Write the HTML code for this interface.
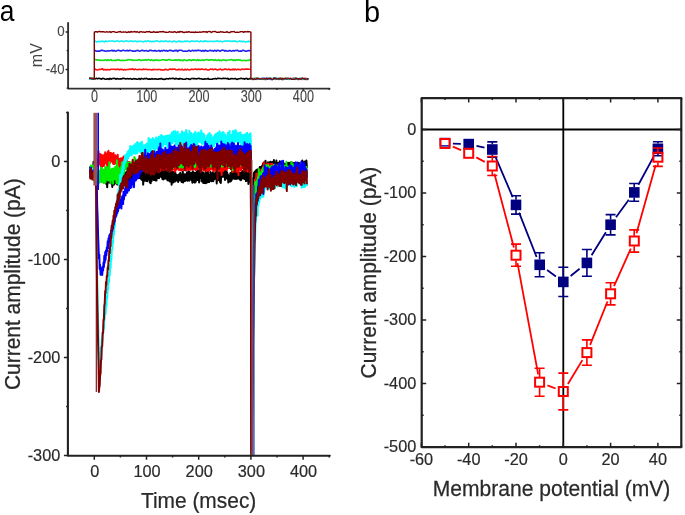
<!DOCTYPE html>
<html><head><meta charset="utf-8"><style>
html,body{margin:0;padding:0;background:#fff;}
body{width:685px;height:515px;overflow:hidden;font-family:"Liberation Sans",sans-serif;}
svg{display:block;filter:blur(0.6px);}
</style></head><body>
<svg width="685" height="515" viewBox="0 0 685 515" font-family="Liberation Sans, sans-serif"><defs><clipPath id="cm"><rect x="68.5" y="112.4" width="262" height="343"/></clipPath></defs><rect width="685" height="515" fill="#fff"/><path d="M89.1 78.7 L90.1 78.5 L91.2 79 L92.2 78.4 L93.3 78.9 L94.3 78.7 L94.3 78.4 L95.3 78.9 L96.4 78.3 L97.4 78.8 L98.5 78.4 L99.5 78.4 L100.6 78.8 L101.6 79.2 L102.7 78.4 L103.7 78.5 L104.7 79 L105.8 79.3 L106.8 78.9 L107.9 78.7 L108.9 79.4 L110 78.4 L111 79.2 L112 78.6 L113.1 78.5 L114.1 78.4 L115.2 78.6 L116.2 79.2 L117.3 78.5 L118.3 78.9 L119.4 79 L120.4 78.7 L121.4 78.9 L122.5 78.4 L123.5 78.4 L124.6 78.5 L125.6 79 L126.7 78.8 L127.7 78.6 L128.8 78.9 L129.8 78.8 L130.8 78.6 L131.9 79.2 L132.9 79.1 L134 78.6 L135 78.9 L136.1 78.9 L137.1 79.3 L138.1 79.1 L139.2 78.6 L140.2 79.4 L141.3 78.4 L142.3 78.8 L143.4 79.1 L144.4 78.5 L145.5 78.8 L146.5 78.3 L147.5 79 L148.6 79.1 L149.6 78.9 L150.7 79.3 L151.7 78.6 L152.8 79.1 L153.8 79 L154.9 78.9 L155.9 78.8 L156.9 79.2 L158 79.3 L159 78.8 L160.1 79 L161.1 78.4 L162.2 79.1 L163.2 79 L164.2 79.4 L165.3 79.2 L166.3 78.6 L167.4 78.7 L168.4 79 L169.5 78.3 L170.5 78.8 L171.6 78.5 L172.6 78.4 L173.6 78.4 L174.7 79.1 L175.7 78.4 L176.8 78.6 L177.8 78.7 L178.9 79.3 L179.9 78.4 L181 78.8 L182 78.9 L183 79.3 L184.1 79.2 L185.1 79.3 L186.2 78.6 L187.2 78.8 L188.3 78.7 L189.3 79.3 L190.3 79.4 L191.4 78.5 L192.4 78.5 L193.5 78.6 L194.5 78.6 L195.6 78.8 L196.6 78.9 L197.7 78.6 L198.7 78.3 L199.7 78.8 L200.8 78.7 L201.8 78.9 L202.9 79.3 L203.9 79.1 L205 78.9 L206 79 L207.1 79 L208.1 78.4 L209.1 79.3 L210.2 79.2 L211.2 79.3 L212.3 79.2 L213.3 78.7 L214.4 78.7 L215.4 78.4 L216.4 79 L217.5 78.4 L218.5 78.4 L219.6 78.5 L220.6 78.5 L221.7 78.7 L222.7 78.4 L223.8 78.3 L224.8 78.5 L225.8 78.4 L226.9 78.7 L227.9 78.3 L229 79.3 L230 79 L231.1 78.5 L232.1 78.6 L233.2 78.7 L234.2 78.7 L235.2 78.4 L236.3 79.2 L237.3 79.4 L238.4 78.8 L239.4 78.8 L240.5 78.4 L241.5 78.4 L242.5 78.7 L243.6 78.6 L244.6 79.2 L245.7 78.5 L246.7 78.3 L247.8 79.3 L248.8 78.9 L249.9 78.5 L250.9 78.9 L250.9 78.4 L251.9 78.9 L253 79.4 L254 79.2 L255.1 79.1 L256.1 78.6 L257.2 78.7 L258.2 78.5 L259.3 79.1 L260.3 78.9 L261.3 79.2 L262.4 78.7 L263.4 78.5 L264.5 79.2 L265.5 79.4 L266.6 79.2 L267.6 79.2 L268.6 79.2 L269.7 79.1 L270.7 78.5 L271.8 78.9 L272.8 78.7 L273.9 78.3 L274.9 78.3 L276 78.6 L277 78.6 L278 79.1 L279.1 79.4 L280.1 78.8 L281.2 79.3 L282.2 79.4 L283.3 79.4 L284.3 78.7 L285.4 78.5 L286.4 78.5 L287.4 78.5 L288.5 78.5 L289.5 79 L290.6 79.3 L291.6 79.2 L292.7 78.8 L293.7 79 L294.7 79.2 L295.8 78.4 L296.8 79 L297.9 79.3 L298.9 79.2 L300 79.1 L301 78.8 L302.1 78.5 L303.1 79.2 L304.1 78.7 L305.2 79.2 L306.2 79.4 L307.3 78.7 L308.3 78.7" fill="none" stroke="#000000" stroke-width="1.6" stroke-linejoin="round"/><path d="M89.1 79.3 L90.1 79.1 L91.2 78.5 L92.2 78.4 L93.3 78.5 L94.3 79.3 M94.3 69.8 L95.3 69.1 L96.4 69.8 L97.4 70 L98.5 69.7 L99.5 69.3 L100.6 69.5 L101.6 69.1 L102.7 68.9 L103.7 70 L104.7 69.6 L105.8 69.5 L106.8 70 L107.9 69.4 L108.9 69.9 L110 69.8 L111 69.2 L112 69.2 L113.1 69.3 L114.1 69.2 L115.2 69.6 L116.2 69.2 L117.3 69.4 L118.3 69.1 L119.4 69.9 L120.4 69.3 L121.4 69.4 L122.5 69.6 L123.5 69.9 L124.6 69.4 L125.6 69.9 L126.7 69.5 L127.7 69.5 L128.8 69.5 L129.8 69 L130.8 69.4 L131.9 69.1 L132.9 68.9 L134 69.8 L135 69.1 L136.1 69.5 L137.1 69.7 L138.1 69.5 L139.2 69.3 L140.2 69.5 L141.3 69.5 L142.3 69.8 L143.4 69 L144.4 69.5 L145.5 69.2 L146.5 69.2 L147.5 69.8 L148.6 69.5 L149.6 69.5 L150.7 69.8 L151.7 69.9 L152.8 69.4 L153.8 69.6 L154.9 69.5 L155.9 69.5 L156.9 69.7 L158 69.4 L159 69.5 L160.1 69.5 L161.1 70 L162.2 69.7 L163.2 69.9 L164.2 70 L165.3 69.2 L166.3 69.5 L167.4 70 L168.4 69.9 L169.5 69.1 L170.5 69.1 L171.6 69.4 L172.6 69 L173.6 69.2 L174.7 69 L175.7 69.7 L176.8 69.8 L177.8 69.9 L178.9 69.1 L179.9 69.7 L181 69.7 L182 69.1 L183 69.9 L184.1 70 L185.1 69.2 L186.2 70 L187.2 69.4 L188.3 69.5 L189.3 70 L190.3 69.8 L191.4 69.1 L192.4 69.4 L193.5 69.5 L194.5 69.3 L195.6 69.1 L196.6 69.3 L197.7 69.7 L198.7 69 L199.7 69.5 L200.8 69.4 L201.8 68.9 L202.9 69.3 L203.9 69.6 L205 69.5 L206 69 L207.1 70 L208.1 69.8 L209.1 70 L210.2 69 L211.2 69.2 L212.3 69 L213.3 69.8 L214.4 69.2 L215.4 69.1 L216.4 69.4 L217.5 69.9 L218.5 69.8 L219.6 69.2 L220.6 69.1 L221.7 69.9 L222.7 69.6 L223.8 69.7 L224.8 69 L225.8 69 L226.9 69.7 L227.9 69.4 L229 69 L230 70 L231.1 69.6 L232.1 69.8 L233.2 69 L234.2 69.9 L235.2 69 L236.3 69.9 L237.3 69.4 L238.4 69.3 L239.4 69.5 L240.5 69.9 L241.5 69.2 L242.5 69.1 L243.6 69.5 L244.6 69.2 L245.7 69.1 L246.7 69.1 L247.8 69 L248.8 69.2 L249.9 69.3 L250.9 69.3 M250.9 79.1 L251.9 78.6 L253 78.9 L254 78.5 L255.1 78.7 L256.1 78.3 L257.2 78.6 L258.2 78.3 L259.3 79.1 L260.3 78.9 L261.3 78.5 L262.4 78.8 L263.4 79.3 L264.5 78.4 L265.5 79.2 L266.6 78.8 L267.6 78.8 L268.6 79.2 L269.7 78.7 L270.7 78.9 L271.8 79.1 L272.8 79.4 L273.9 78.7 L274.9 79.2 L276 79.1 L277 79 L278 78.7 L279.1 78.7 L280.1 78.4 L281.2 78.4 L282.2 78.4 L283.3 79.1 L284.3 78.6 L285.4 78.5 L286.4 78.4 L287.4 79.2 L288.5 79.3 L289.5 79 L290.6 78.6 L291.6 78.6 L292.7 78.6 L293.7 78.8 L294.7 78.5 L295.8 78.8 L296.8 78.6 L297.9 79.4 L298.9 79.4 L300 78.9 L301 78.6 L302.1 79.4 L303.1 78.6 L304.1 78.7 L305.2 78.3 L306.2 78.7 L307.3 78.8 L308.3 78.9" fill="none" stroke="#ff1010" stroke-width="1.6" stroke-linejoin="round"/><path d="M89.1 78.5 L90.1 78.9 L91.2 78.3 L92.2 78.6 L93.3 78.4 L94.3 78.7 M94.3 59.6 L95.3 59.6 L96.4 59.9 L97.4 59.8 L98.5 60.2 L99.5 60.1 L100.6 60.4 L101.6 60.3 L102.7 60.3 L103.7 60.5 L104.7 60 L105.8 59.9 L106.8 60.6 L107.9 59.7 L108.9 60.4 L110 60.3 L111 59.6 L112 60.5 L113.1 60.5 L114.1 60.3 L115.2 60.4 L116.2 60.5 L117.3 59.7 L118.3 60.1 L119.4 60.1 L120.4 60.5 L121.4 60.4 L122.5 60.5 L123.5 60.2 L124.6 60.5 L125.6 60.3 L126.7 60.3 L127.7 59.8 L128.8 59.6 L129.8 59.7 L130.8 60 L131.9 59.7 L132.9 60.5 L134 60.2 L135 60.3 L136.1 60.2 L137.1 60.3 L138.1 60.1 L139.2 59.6 L140.2 60.4 L141.3 60.4 L142.3 60.1 L143.4 60.1 L144.4 60.3 L145.5 59.6 L146.5 60.4 L147.5 59.8 L148.6 59.6 L149.6 59.9 L150.7 60.4 L151.7 59.8 L152.8 60.4 L153.8 60.6 L154.9 60.1 L155.9 60 L156.9 60.1 L158 60.3 L159 60.4 L160.1 60.2 L161.1 60.3 L162.2 59.6 L163.2 59.7 L164.2 59.8 L165.3 60.4 L166.3 59.9 L167.4 60.2 L168.4 59.6 L169.5 59.6 L170.5 59.9 L171.6 60.3 L172.6 60.3 L173.6 60.3 L174.7 59.9 L175.7 60.1 L176.8 60.1 L177.8 60.1 L178.9 59.7 L179.9 60.5 L181 59.8 L182 60.6 L183 60.6 L184.1 59.6 L185.1 60.1 L186.2 60.5 L187.2 60.6 L188.3 60.1 L189.3 59.9 L190.3 59.8 L191.4 60.6 L192.4 59.8 L193.5 60.2 L194.5 59.7 L195.6 60.1 L196.6 60.6 L197.7 59.7 L198.7 60.5 L199.7 60.1 L200.8 60.5 L201.8 60.3 L202.9 59.8 L203.9 60.5 L205 60.1 L206 59.6 L207.1 59.6 L208.1 60.1 L209.1 60.1 L210.2 59.9 L211.2 59.7 L212.3 59.9 L213.3 59.9 L214.4 60.5 L215.4 59.6 L216.4 60.4 L217.5 60.5 L218.5 59.7 L219.6 60.6 L220.6 60.3 L221.7 60.6 L222.7 59.9 L223.8 60 L224.8 60 L225.8 60.7 L226.9 60.2 L227.9 60 L229 60 L230 59.9 L231.1 59.6 L232.1 59.7 L233.2 60.5 L234.2 59.9 L235.2 60.6 L236.3 59.8 L237.3 59.9 L238.4 60.1 L239.4 59.8 L240.5 60 L241.5 60.6 L242.5 60.5 L243.6 60.5 L244.6 60.3 L245.7 60.6 L246.7 60.6 L247.8 60.2 L248.8 60.4 L249.9 59.6 L250.9 60.4 M250.9 78.8 L251.9 79.1 L253 79 L254 78.6 L255.1 78.4 L256.1 79.3 L257.2 78.4 L258.2 78.8 L259.3 78.7 L260.3 78.6 L261.3 79.1 L262.4 79.4 L263.4 78.6 L264.5 79 L265.5 78.6 L266.6 78.9 L267.6 78.7 L268.6 78.5 L269.7 78.5 L270.7 78.5 L271.8 79.3 L272.8 78.8 L273.9 78.5 L274.9 79.3 L276 79.4 L277 78.8 L278 78.5 L279.1 78.5 L280.1 78.4 L281.2 78.7 L282.2 78.4 L283.3 78.6 L284.3 78.6 L285.4 78.9 L286.4 79.3 L287.4 79.1 L288.5 78.8 L289.5 78.8 L290.6 78.9 L291.6 78.7 L292.7 78.7 L293.7 78.4 L294.7 78.6 L295.8 79.4 L296.8 78.4 L297.9 78.9 L298.9 79 L300 79.2 L301 78.5 L302.1 78.6 L303.1 78.6 L304.1 78.7 L305.2 78.8 L306.2 79.3 L307.3 79.2 L308.3 79.3" fill="none" stroke="#10e010" stroke-width="1.6" stroke-linejoin="round"/><path d="M89.1 78.3 L90.1 78.3 L91.2 79.1 L92.2 79.3 L93.3 78.8 L94.3 78.9 M94.3 50.2 L95.3 50.6 L96.4 51.2 L97.4 51.1 L98.5 51.1 L99.5 51.3 L100.6 50.5 L101.6 50.3 L102.7 50.4 L103.7 50.8 L104.7 50.9 L105.8 51.2 L106.8 51 L107.9 50.9 L108.9 51 L110 50.7 L111 50.8 L112 50.2 L113.1 51.1 L114.1 50.4 L115.2 51.2 L116.2 50.9 L117.3 50.5 L118.3 50.3 L119.4 50.5 L120.4 50.9 L121.4 51 L122.5 50.3 L123.5 50.3 L124.6 50.8 L125.6 50.8 L126.7 50.6 L127.7 50.4 L128.8 50.9 L129.8 50.2 L130.8 50.5 L131.9 50.7 L132.9 51.2 L134 50.9 L135 51.2 L136.1 50.7 L137.1 50.4 L138.1 50.5 L139.2 51.2 L140.2 51 L141.3 50.5 L142.3 50.2 L143.4 50.7 L144.4 50.9 L145.5 50.7 L146.5 50.5 L147.5 50.9 L148.6 51.2 L149.6 50.4 L150.7 50.2 L151.7 50.6 L152.8 50.7 L153.8 50.9 L154.9 50.4 L155.9 51.1 L156.9 51 L158 50.7 L159 50.4 L160.1 51.3 L161.1 50.5 L162.2 51.1 L163.2 50.4 L164.2 50.4 L165.3 51 L166.3 50.5 L167.4 51.2 L168.4 50.7 L169.5 50.4 L170.5 50.4 L171.6 50.6 L172.6 50.9 L173.6 51.2 L174.7 50.4 L175.7 50.6 L176.8 50.4 L177.8 51.3 L178.9 50.3 L179.9 50.2 L181 50.3 L182 50.6 L183 51.2 L184.1 51.2 L185.1 51 L186.2 51.3 L187.2 51.2 L188.3 50.6 L189.3 50.4 L190.3 51.2 L191.4 51 L192.4 50.2 L193.5 50.9 L194.5 50.6 L195.6 50.6 L196.6 50.6 L197.7 50.4 L198.7 50.2 L199.7 50.5 L200.8 50.6 L201.8 51.2 L202.9 50.3 L203.9 51.3 L205 50.4 L206 50.6 L207.1 51.1 L208.1 51.1 L209.1 50.7 L210.2 50.2 L211.2 50.7 L212.3 50.6 L213.3 51.2 L214.4 50.4 L215.4 50.6 L216.4 51.2 L217.5 50.2 L218.5 50.6 L219.6 51.1 L220.6 51 L221.7 50.2 L222.7 50.2 L223.8 50.3 L224.8 51.2 L225.8 50.5 L226.9 51 L227.9 51.2 L229 50.6 L230 50.5 L231.1 51.2 L232.1 50.9 L233.2 50.5 L234.2 51 L235.2 50.5 L236.3 50.5 L237.3 50.2 L238.4 51 L239.4 51.2 L240.5 50.9 L241.5 51.2 L242.5 50.2 L243.6 50.4 L244.6 50.7 L245.7 51.2 L246.7 51.2 L247.8 50.6 L248.8 50.5 L249.9 50.7 L250.9 50.7 M250.9 79.3 L251.9 78.5 L253 79.2 L254 79.1 L255.1 79.2 L256.1 79.2 L257.2 79 L258.2 78.7 L259.3 78.7 L260.3 78.7 L261.3 79.2 L262.4 78.4 L263.4 78.5 L264.5 79.1 L265.5 78.6 L266.6 78.4 L267.6 78.3 L268.6 78.9 L269.7 78.7 L270.7 79.4 L271.8 79.3 L272.8 79.4 L273.9 78.6 L274.9 78.4 L276 78.4 L277 78.8 L278 79.1 L279.1 78.8 L280.1 78.6 L281.2 78.8 L282.2 79 L283.3 79 L284.3 79.1 L285.4 79.2 L286.4 79 L287.4 78.4 L288.5 79.2 L289.5 78.6 L290.6 78.9 L291.6 78.7 L292.7 79.1 L293.7 78.5 L294.7 78.6 L295.8 78.6 L296.8 78.5 L297.9 79.3 L298.9 78.9 L300 78.7 L301 78.7 L302.1 79.4 L303.1 78.9 L304.1 78.6 L305.2 79.2 L306.2 79 L307.3 79.4 L308.3 78.4" fill="none" stroke="#2020f0" stroke-width="1.6" stroke-linejoin="round"/><path d="M89.1 78.8 L90.1 79.2 L91.2 79.2 L92.2 79.3 L93.3 78.3 L94.3 78.6 M94.3 41 L95.3 41 L96.4 41.9 L97.4 41.5 L98.5 41.8 L99.5 41.2 L100.6 41.8 L101.6 41.3 L102.7 41.1 L103.7 41.7 L104.7 41.9 L105.8 40.9 L106.8 41.5 L107.9 41.5 L108.9 41.1 L110 41.2 L111 41 L112 41 L113.1 41.1 L114.1 41.5 L115.2 41.5 L116.2 41 L117.3 40.8 L118.3 41.2 L119.4 41.6 L120.4 41 L121.4 41.2 L122.5 41 L123.5 41.7 L124.6 41.4 L125.6 40.9 L126.7 40.9 L127.7 41.3 L128.8 41.4 L129.8 41.5 L130.8 40.9 L131.9 41 L132.9 41.6 L134 41.3 L135 41.1 L136.1 41.2 L137.1 41.9 L138.1 41.2 L139.2 41.4 L140.2 41.2 L141.3 41.3 L142.3 41.8 L143.4 41.9 L144.4 41.2 L145.5 41 L146.5 41.6 L147.5 41 L148.6 40.8 L149.6 41.8 L150.7 41.3 L151.7 41.7 L152.8 41.3 L153.8 41.8 L154.9 41.3 L155.9 41 L156.9 40.8 L158 41.4 L159 41.5 L160.1 41.8 L161.1 40.9 L162.2 41.5 L163.2 41.2 L164.2 41.4 L165.3 41 L166.3 41.1 L167.4 41.4 L168.4 41.8 L169.5 40.9 L170.5 41.4 L171.6 41.7 L172.6 41.9 L173.6 41 L174.7 41 L175.7 41.9 L176.8 41.9 L177.8 41.4 L178.9 40.9 L179.9 41.8 L181 41.2 L182 41.8 L183 41.5 L184.1 41.7 L185.1 41 L186.2 41.7 L187.2 41.1 L188.3 41.3 L189.3 41.8 L190.3 41.7 L191.4 41 L192.4 41.1 L193.5 41.3 L194.5 41.4 L195.6 41.2 L196.6 41 L197.7 41.1 L198.7 41.6 L199.7 41.8 L200.8 40.9 L201.8 41.4 L202.9 41.7 L203.9 40.9 L205 41.7 L206 40.9 L207.1 41.5 L208.1 41.4 L209.1 41.5 L210.2 41.2 L211.2 41.3 L212.3 41.5 L213.3 41.3 L214.4 41.5 L215.4 41.3 L216.4 41.3 L217.5 40.8 L218.5 41.5 L219.6 41.4 L220.6 41.1 L221.7 41.7 L222.7 41.7 L223.8 41.3 L224.8 41 L225.8 41.3 L226.9 40.9 L227.9 41 L229 41.3 L230 40.9 L231.1 41.3 L232.1 41.4 L233.2 40.9 L234.2 41.5 L235.2 40.9 L236.3 41.6 L237.3 41.7 L238.4 41.4 L239.4 40.9 L240.5 41.4 L241.5 41.2 L242.5 41.9 L243.6 41 L244.6 41.8 L245.7 41.9 L246.7 41.6 L247.8 41.7 L248.8 41 L249.9 41.9 L250.9 41.4 M250.9 79.3 L251.9 79.3 L253 78.5 L254 79.2 L255.1 79.3 L256.1 78.4 L257.2 78.7 L258.2 79.1 L259.3 78.5 L260.3 79.3 L261.3 78.6 L262.4 79.2 L263.4 78.5 L264.5 78.9 L265.5 79.3 L266.6 78.5 L267.6 78.6 L268.6 78.9 L269.7 78.7 L270.7 78.3 L271.8 78.5 L272.8 78.5 L273.9 79.3 L274.9 79 L276 79.3 L277 78.5 L278 79.2 L279.1 78.4 L280.1 78.9 L281.2 79 L282.2 78.7 L283.3 79.3 L284.3 78.9 L285.4 78.9 L286.4 79.3 L287.4 78.4 L288.5 79.4 L289.5 79 L290.6 78.7 L291.6 79.2 L292.7 78.6 L293.7 79.4 L294.7 78.9 L295.8 78.7 L296.8 79.1 L297.9 78.8 L298.9 78.5 L300 79.1 L301 78.4 L302.1 79.2 L303.1 78.6 L304.1 79 L305.2 79.4 L306.2 78.9 L307.3 79 L308.3 78.6" fill="none" stroke="#10f0f0" stroke-width="1.6" stroke-linejoin="round"/><path d="M89.1 78.3 L90.1 78.3 L91.2 78.5 L92.2 79 L93.3 78.8 L94.3 78.9 L94.3 32.4 L95.3 31.6 L96.4 31.7 L97.4 32.2 L98.5 31.5 L99.5 31.5 L100.6 31.8 L101.6 31.6 L102.7 31.8 L103.7 31.7 L104.7 32.1 L105.8 32.1 L106.8 31.7 L107.9 32.1 L108.9 32 L110 31.6 L111 32.5 L112 31.7 L113.1 31.6 L114.1 31.6 L115.2 32.2 L116.2 32.4 L117.3 32.3 L118.3 31.9 L119.4 31.7 L120.4 31.5 L121.4 32.2 L122.5 32.1 L123.5 31.8 L124.6 32.2 L125.6 31.9 L126.7 32.5 L127.7 32.3 L128.8 31.7 L129.8 32.4 L130.8 31.5 L131.9 32 L132.9 31.9 L134 31.7 L135 31.5 L136.1 32.3 L137.1 31.5 L138.1 32.1 L139.2 32.5 L140.2 31.6 L141.3 31.7 L142.3 32.1 L143.4 32 L144.4 32.2 L145.5 32.3 L146.5 31.6 L147.5 31.8 L148.6 31.8 L149.6 31.5 L150.7 32.4 L151.7 32.3 L152.8 32.2 L153.8 31.5 L154.9 32.4 L155.9 32.3 L156.9 32 L158 32.3 L159 31.9 L160.1 31.7 L161.1 31.6 L162.2 31.7 L163.2 31.5 L164.2 31.8 L165.3 32.3 L166.3 32.2 L167.4 32.4 L168.4 32.2 L169.5 31.7 L170.5 32.1 L171.6 31.9 L172.6 32.3 L173.6 32 L174.7 31.7 L175.7 32.2 L176.8 32.5 L177.8 31.7 L178.9 32.4 L179.9 31.5 L181 31.7 L182 31.7 L183 32.3 L184.1 32.5 L185.1 32.3 L186.2 31.8 L187.2 32.4 L188.3 31.8 L189.3 31.7 L190.3 32.4 L191.4 32.1 L192.4 32.2 L193.5 32.2 L194.5 32.5 L195.6 32 L196.6 32.4 L197.7 32.2 L198.7 32.4 L199.7 31.9 L200.8 32.2 L201.8 32.1 L202.9 31.8 L203.9 31.7 L205 32.1 L206 31.5 L207.1 32.5 L208.1 31.6 L209.1 31.5 L210.2 31.6 L211.2 32.5 L212.3 31.8 L213.3 31.6 L214.4 31.5 L215.4 31.5 L216.4 32.2 L217.5 32.1 L218.5 32.2 L219.6 32.3 L220.6 31.5 L221.7 32.1 L222.7 31.8 L223.8 32.3 L224.8 32.4 L225.8 32.4 L226.9 31.5 L227.9 32.4 L229 32.5 L230 32.5 L231.1 31.6 L232.1 31.7 L233.2 31.6 L234.2 31.5 L235.2 32.4 L236.3 32.3 L237.3 32.1 L238.4 32.4 L239.4 32.1 L240.5 31.8 L241.5 31.6 L242.5 31.6 L243.6 32.3 L244.6 31.7 L245.7 31.8 L246.7 31.9 L247.8 31.5 L248.8 31.7 L249.9 31.8 L250.9 32.2 L250.9 78.7 L251.9 78.7 L253 79.4 L254 78.9 L255.1 79.2 L256.1 79 L257.2 78.3 L258.2 78.8 L259.3 78.8 L260.3 79.2 L261.3 78.7 L262.4 79.1 L263.4 78.9 L264.5 78.5 L265.5 79.2 L266.6 78.4 L267.6 79.2 L268.6 78.5 L269.7 78.3 L270.7 78.5 L271.8 79.1 L272.8 79.4 L273.9 78.3 L274.9 78.8 L276 78.8 L277 79.2 L278 78.5 L279.1 78.8 L280.1 78.7 L281.2 79.2 L282.2 78.6 L283.3 79.3 L284.3 78.6 L285.4 78.5 L286.4 79.1 L287.4 78.8 L288.5 78.4 L289.5 79 L290.6 78.4 L291.6 79.2 L292.7 79.1 L293.7 79.2 L294.7 79 L295.8 78.7 L296.8 78.7 L297.9 78.7 L298.9 79.3 L300 78.4 L301 79.3 L302.1 78.3 L303.1 78.5 L304.1 78.6 L305.2 79.3 L306.2 78.9 L307.3 78.7 L308.3 79.3" fill="none" stroke="#800000" stroke-width="1.4" stroke-linejoin="round"/><path d="M68.1 22.9 V88.6 H329.5" fill="none" stroke="#303030" stroke-width="1.9" stroke-linejoin="round" stroke-linecap="round"/><path d="M68.1 32 h-2.5 M68.1 50.7 h-1.5 M68.1 69.5 h-2.5 M68.1 88.2 h-1.5 M94.3 88.6 v2.5 M120.4 88.6 v1.5 M146.5 88.6 v2.5 M172.6 88.6 v1.5 M198.7 88.6 v2.5 M224.8 88.6 v1.5 M250.9 88.6 v2.5 M277 88.6 v1.5 M303.1 88.6 v2.5 M329.2 88.6 v1.5" stroke="#222222" stroke-width="1.3" fill="none"/><text transform="translate(94.6 102.3) scale(0.79 1)" font-size="16" text-anchor="middle" fill="#444444" stroke="#444444" stroke-width="0.1">0</text><text transform="translate(146.8 102.3) scale(0.79 1)" font-size="16" text-anchor="middle" fill="#444444" stroke="#444444" stroke-width="0.1">100</text><text transform="translate(199 102.3) scale(0.79 1)" font-size="16" text-anchor="middle" fill="#444444" stroke="#444444" stroke-width="0.1">200</text><text transform="translate(251.2 102.3) scale(0.79 1)" font-size="16" text-anchor="middle" fill="#444444" stroke="#444444" stroke-width="0.1">300</text><text transform="translate(303.4 102.3) scale(0.79 1)" font-size="16" text-anchor="middle" fill="#444444" stroke="#444444" stroke-width="0.1">400</text><text transform="translate(64.6 35.9) scale(0.9 1)" font-size="14.8" text-anchor="end" fill="#444444" stroke="#444444" stroke-width="0.1">0</text><text transform="translate(64.6 73.8) scale(0.88 1)" font-size="14.8" text-anchor="end" fill="#444444" stroke="#444444" stroke-width="0.1">-40</text><text transform="translate(41.6 55.2) rotate(-90)" font-size="16" text-anchor="middle" fill="#444444">mV</text><g clip-path="url(#cm)"><path d="M90.1 166.5 L90.5 177.6 L91 168.3 L91.4 177.2 L91.8 170.2 L92.2 176.3 L92.6 168.4 L93 177.8 L93.5 161.8 L93.9 177.2 L94.3 169.4 L94.7 176.6 L95.1 169.6 L95.6 178.9 L96 171.3 L96.4 184.9 L96.8 173.2 L97.2 180.4 L97.6 176 L98.1 181.4 L98.5 174.6 L98.9 182.5 L99.3 175.5 L99.7 180.3 L100.1 171.8 L100.6 179.5 L101 173.9 L101.4 180.2 L101.8 173.8 L102.2 181.5 L102.7 172.3 L103.1 178.3 L103.5 172.4 L103.9 178.6 L104.3 173 L104.7 182.2 L105.2 175.7 L105.6 181.6 L106 175 L106.4 184.1 L106.8 176.4 L107.2 187.2 L107.7 174.9 L108.1 180.9 L108.5 174.2 L108.9 182.4 L109.3 175.5 L109.8 181.4 L110.2 174 L110.6 183.3 L111 170.7 L111.4 182.5 L111.8 176.9 L112.3 186.9 L112.7 174.7 L113.1 182.2 L113.5 175.9 L113.9 184.8 L114.3 175.3 L114.8 183.3 L115.2 177.2 L115.6 183.2 L116 176.1 L116.4 183.5 L116.9 176.6 L117.3 184.4 L117.7 173.9 L118.1 182.8 L118.5 173.9 L118.9 182.7 L119.4 174.1 L119.8 181.9 L120.2 175.4 L120.6 184.5 L121 174.6 L121.4 181.8 L121.9 174 L122.3 183 L122.7 176 L123.1 184.2 L123.5 175.9 L123.9 181.2 L124.4 173.3 L124.8 183.8 L125.2 172.6 L125.6 186.7 L126 173.4 L126.5 179.3 L126.9 171.7 L127.3 180.3 L127.7 173.8 L128.1 179.7 L128.5 172 L129 181.4 L129.4 173.9 L129.8 181.5 L130.2 175.5 L130.6 180.4 L131 174.7 L131.5 181.1 L131.9 173.7 L132.3 180.9 L132.7 172 L133.1 180.6 L133.6 171.8 L134 179.5 L134.4 172.1 L134.8 178.3 L135.2 168 L135.6 180.2 L136.1 171.5 L136.5 178 L136.9 172.1 L137.3 177.9 L137.7 170.3 L138.1 177.8 L138.6 171.9 L139 177.3 L139.4 169.8 L139.8 178.1 L140.2 171.9 L140.7 178.6 L141.1 169.3 L141.5 179.4 L141.9 170.3 L142.3 180.1 L142.7 170.1 L143.2 184.6 L143.6 171 L144 180.5 L144.4 171.6 L144.8 180.7 L145.2 172.5 L145.7 179.9 L146.1 173.6 L146.5 180.9 L146.9 173.1 L147.3 181.3 L147.8 172.4 L148.2 179.4 L148.6 173.1 L149 179.1 L149.4 174.1 L149.8 182.5 L150.3 173.6 L150.7 183.3 L151.1 172.1 L151.5 181.1 L151.9 171.8 L152.3 179.5 L152.8 171.2 L153.2 178.9 L153.6 172.3 L154 180.1 L154.4 172.8 L154.9 178.7 L155.3 170.7 L155.7 180.6 L156.1 171 L156.5 180.5 L156.9 170.7 L157.4 176.7 L157.8 168.8 L158.2 177.9 L158.6 168.2 L159 178.3 L159.4 167.9 L159.9 176.5 L160.3 169.6 L160.7 176.6 L161.1 169.8 L161.5 177.3 L162 166.4 L162.4 178.9 L162.8 166.8 L163.2 179.4 L163.6 169.5 L164 178 L164.5 171.7 L164.9 178.8 L165.3 170.9 L165.7 178.1 L166.1 170.9 L166.5 178.6 L167 172.8 L167.4 180.3 L167.8 170.3 L168.2 180.5 L168.6 174.3 L169.1 180.6 L169.5 173.2 L169.9 181.4 L170.3 169.7 L170.7 181.4 L171.1 173.3 L171.6 184.7 L172 171.5 L172.4 181.9 L172.8 174.4 L173.2 182.5 L173.6 172 L174.1 180.4 L174.5 173.9 L174.9 181.6 L175.3 171.9 L175.7 179.3 L176.1 174.5 L176.6 180.6 L177 175.4 L177.4 180.8 L177.8 175.1 L178.2 181.9 L178.7 174.4 L179.1 180 L179.5 174.3 L179.9 180.2 L180.3 172.7 L180.7 180.5 L181.2 175.6 L181.6 182 L182 174.3 L182.4 181.2 L182.8 171.3 L183.2 182.4 L183.7 174.2 L184.1 179.6 L184.5 174.2 L184.9 181.1 L185.3 174.5 L185.8 179.5 L186.2 174.2 L186.6 180.2 L187 172.2 L187.4 180.7 L187.8 173.6 L188.3 178.8 L188.7 171.3 L189.1 180.8 L189.5 171.9 L189.9 179.6 L190.3 174.4 L190.8 179.2 L191.2 173 L191.6 180.4 L192 172.5 L192.4 182.8 L192.9 171.3 L193.3 182 L193.7 174.5 L194.1 182.2 L194.5 172.8 L194.9 182.6 L195.4 175.2 L195.8 181.8 L196.2 172.6 L196.6 179 L197 170.1 L197.4 179.9 L197.9 170.1 L198.3 179.4 L198.7 171.3 L199.1 182.5 L199.5 170.8 L200 177.7 L200.4 168.3 L200.8 177.9 L201.2 173.3 L201.6 181.2 L202 172 L202.5 181.7 L202.9 174.3 L203.3 183 L203.7 172.6 L204.1 183.1 L204.5 174.1 L205 180.3 L205.4 174.2 L205.8 183.2 L206.2 168.9 L206.6 182.8 L207.1 173.9 L207.5 182.2 L207.9 171.6 L208.3 181.1 L208.7 174.7 L209.1 182.1 L209.6 174.7 L210 180.9 L210.4 171.9 L210.8 179.9 L211.2 175 L211.6 181.2 L212.1 173.1 L212.5 179.3 L212.9 172.3 L213.3 181.2 L213.7 173.6 L214.2 179.3 L214.6 173.6 L215 178.4 L215.4 172.2 L215.8 178.7 L216.2 173.3 L216.7 183.5 L217.1 170.9 L217.5 180.4 L217.9 172.3 L218.3 179.9 L218.7 173.8 L219.2 178.7 L219.6 172.1 L220 181.9 L220.4 173.2 L220.8 182.9 L221.3 170.8 L221.7 177.2 L222.1 168.7 L222.5 176.2 L222.9 168.7 L223.3 176.5 L223.8 168.7 L224.2 176.9 L224.6 170.3 L225 180 L225.4 169.1 L225.8 178 L226.3 168.5 L226.7 178.6 L227.1 172.5 L227.5 178.3 L227.9 174.2 L228.3 182.5 L228.8 175.8 L229.2 180.2 L229.6 175.5 L230 181.6 L230.4 173 L230.9 181.2 L231.3 173.3 L231.7 180 L232.1 171.1 L232.5 178.5 L232.9 172.6 L233.4 178.4 L233.8 172.4 L234.2 177 L234.6 168.6 L235 179 L235.4 170.6 L235.9 176.5 L236.3 170.7 L236.7 179 L237.1 171.2 L237.5 177.4 L238 167.3 L238.4 178.4 L238.8 172.5 L239.2 178.5 L239.6 172.8 L240 179.6 L240.5 172.9 L240.9 180.2 L241.3 173.4 L241.7 178.1 L242.1 171 L242.5 178.4 L243 172.7 L243.4 177.9 L243.8 172.2 L244.2 178.9 L244.6 171.4 L245.1 178.3 L245.5 170.5 L245.9 181.1 L246.3 173.8 L246.7 178.8 L247.1 170.5 L247.6 180.8 L248 170 L248.4 184 L248.8 174 L249.2 181 L249.6 171.8 L250.1 182.3 L250.5 172.5 L250.9 179.7 L251.3 397.7 L251.7 342.8 L252.2 238.6 L252.6 204.7 L253 177.8 L253.4 181.9 L253.8 173 L254.2 178.2 L254.7 171.7 L255.1 176.4 L255.5 170.9 L255.9 175 L256.3 170 L256.7 175.9 L257.2 169.6 L257.6 174.7 L258 169.8 L258.4 175.5 L258.8 169.8 L259.3 172.6 L259.7 167.1 L260.1 172.4 L260.5 167 L260.9 172.4 L261.3 167.5 L261.8 171 L262.2 165.5 L262.6 170.2 L263 163.6 L263.4 168.4 L263.8 164.7 L264.3 169.8 L264.7 162.3 L265.1 171.3 L265.5 160.7 L265.9 169 L266.4 163.9 L266.8 167.8 L267.2 163.4 L267.6 172.4 L268 162.3 L268.4 169 L268.9 163.1 L269.3 168 L269.7 162.3 L270.1 168.5 L270.5 161.8 L270.9 167.9 L271.4 162.6 L271.8 167 L272.2 162.1 L272.6 168.1 L273 162 L273.5 166.6 L273.9 160.1 L274.3 167.5 L274.7 162.4 L275.1 166.9 L275.5 162.4 L276 167.7 L276.4 160.6 L276.8 168.5 L277.2 163.3 L277.6 168.1 L278 163.1 L278.5 168.1 L278.9 163.6 L279.3 168.8 L279.7 161.2 L280.1 167.3 L280.5 163.3 L281 167.7 L281.4 162.3 L281.8 167.8 L282.2 161.9 L282.6 167.1 L283.1 162.2 L283.5 167.8 L283.9 163.6 L284.3 169.5 L284.7 164.4 L285.1 169.9 L285.6 163.9 L286 170.8 L286.4 164.6 L286.8 168 L287.2 163 L287.6 171.6 L288.1 163.2 L288.5 167.6 L288.9 162.8 L289.3 167.3 L289.7 164.2 L290.2 167.6 L290.6 162.8 L291 168.1 L291.4 162 L291.8 167.6 L292.2 163.8 L292.7 168.9 L293.1 163.3 L293.5 169.3 L293.9 162.9 L294.3 168.7 L294.7 163.3 L295.2 167.9 L295.6 163 L296 168.4 L296.4 163.1 L296.8 167.7 L297.3 163.4 L297.7 170.5 L298.1 165.2 L298.5 170.8 L298.9 162.8 L299.3 169.8 L299.8 165 L300.2 169.8 L300.6 164.7 L301 170.4 L301.4 163.1 L301.8 169.5 L302.3 160.4 L302.7 168.8 L303.1 162.1 L303.5 167.8 L303.9 163.7 L304.4 167.5 L304.8 161.6 L305.2 167 L305.6 163 L306 166.2 L306.4 160.6 L306.9 167.7" fill="none" stroke="#000000" stroke-width="2" stroke-linejoin="round"/><path d="M90.1 170.4 L90.5 178.7 L91 167.9 L91.4 176.8 L91.8 167.8 L92.2 177.1 L92.6 168.6 L93 175.8 L93.5 170.5 L93.9 176.9 L94.3 165.8 L94.7 174.1 L95.1 167.3 L95.6 174.8 L96 167.1 L96.4 172 L96.8 159.1 L97.2 165.8 L97.6 158.7 L98.1 161.8 L98.5 151.3 L98.9 162.1 L99.3 154.7 L99.7 164.1 L100.1 154 L100.6 166.2 L101 154.7 L101.4 167.7 L101.8 154.9 L102.2 166.6 L102.7 157.3 L103.1 165 L103.5 155.8 L103.9 165.9 L104.3 154.4 L104.7 163.7 L105.2 152.3 L105.6 163.3 L106 154.9 L106.4 163.4 L106.8 153.8 L107.2 168.7 L107.7 151.9 L108.1 160.4 L108.5 150.7 L108.9 166.1 L109.3 155.2 L109.8 163.3 L110.2 153.1 L110.6 160.7 L111 153 L111.4 161.1 L111.8 154.1 L112.3 162.1 L112.7 153.8 L113.1 163.8 L113.5 153.1 L113.9 164.1 L114.3 155.7 L114.8 163.8 L115.2 155.2 L115.6 163.3 L116 155.9 L116.4 161.9 L116.9 157.6 L117.3 164.8 L117.7 154.8 L118.1 164.6 L118.5 158.6 L118.9 166.7 L119.4 159 L119.8 167 L120.2 160.2 L120.6 169 L121 158.3 L121.4 169 L121.9 161 L122.3 167.6 L122.7 158.1 L123.1 165.9 L123.5 156.5 L123.9 165.3 L124.4 158.9 L124.8 165.6 L125.2 159.3 L125.6 168.7 L126 161.3 L126.5 167.5 L126.9 160.3 L127.3 169.1 L127.7 162.2 L128.1 170.6 L128.5 162 L129 168.9 L129.4 162 L129.8 168.8 L130.2 162.8 L130.6 170.4 L131 163.2 L131.5 170.3 L131.9 162.7 L132.3 168.5 L132.7 161 L133.1 169.5 L133.6 162.8 L134 171.3 L134.4 162.4 L134.8 170.2 L135.2 162.8 L135.6 170.7 L136.1 161.6 L136.5 170.4 L136.9 163 L137.3 171.2 L137.7 165.7 L138.1 172.4 L138.6 165.6 L139 169.5 L139.4 162.1 L139.8 169.5 L140.2 165.1 L140.7 172.5 L141.1 164.5 L141.5 168.4 L141.9 163.1 L142.3 168.1 L142.7 164.1 L143.2 169.6 L143.6 162.6 L144 167.7 L144.4 163 L144.8 169.8 L145.2 164 L145.7 167.7 L146.1 163.2 L146.5 169.1 L146.9 162.3 L147.3 168.8 L147.8 162.7 L148.2 170.6 L148.6 161 L149 171 L149.4 163.2 L149.8 168.9 L150.3 161.6 L150.7 168.6 L151.1 162.5 L151.5 167.9 L151.9 162.5 L152.3 167.7 L152.8 163 L153.2 169.4 L153.6 160.7 L154 170.3 L154.4 162.2 L154.9 167.2 L155.3 164 L155.7 170.1 L156.1 163.9 L156.5 168.7 L156.9 161.8 L157.4 168.8 L157.8 164.4 L158.2 171.9 L158.6 165.5 L159 169.6 L159.4 164.4 L159.9 171.3 L160.3 164.1 L160.7 169.3 L161.1 163.3 L161.5 168.4 L162 164.1 L162.4 169.8 L162.8 160.9 L163.2 169.9 L163.6 161.4 L164 169.6 L164.5 161.7 L164.9 166.9 L165.3 161.5 L165.7 167.9 L166.1 162.6 L166.5 168.6 L167 161.6 L167.4 170.4 L167.8 164.3 L168.2 169.6 L168.6 163.1 L169.1 168.9 L169.5 163.2 L169.9 171 L170.3 165.3 L170.7 168.6 L171.1 163.2 L171.6 170.5 L172 163.3 L172.4 170.2 L172.8 161.8 L173.2 168.4 L173.6 161.2 L174.1 168.9 L174.5 162 L174.9 171.8 L175.3 161 L175.7 169.4 L176.1 160.9 L176.6 169.8 L177 162.3 L177.4 168.4 L177.8 163.9 L178.2 168.2 L178.7 161.7 L179.1 170.3 L179.5 162.9 L179.9 170.1 L180.3 157.5 L180.7 169.7 L181.2 163.6 L181.6 170.4 L182 161.8 L182.4 169.1 L182.8 165.2 L183.2 169.1 L183.7 163 L184.1 170.1 L184.5 165.8 L184.9 169.9 L185.3 164.6 L185.8 170.5 L186.2 163.8 L186.6 170.1 L187 165.4 L187.4 169.8 L187.8 162.5 L188.3 168.3 L188.7 164.4 L189.1 169.8 L189.5 162.6 L189.9 169.7 L190.3 161.1 L190.8 169.7 L191.2 160.8 L191.6 167.4 L192 160.3 L192.4 169.2 L192.9 160.5 L193.3 169.4 L193.7 162.5 L194.1 168 L194.5 162.1 L194.9 169.2 L195.4 161 L195.8 170.2 L196.2 162 L196.6 169.7 L197 159.7 L197.4 167.2 L197.9 160.5 L198.3 168.4 L198.7 162.1 L199.1 167.6 L199.5 162.3 L200 170.1 L200.4 161.6 L200.8 168.2 L201.2 161.7 L201.6 169.8 L202 163.8 L202.5 168.6 L202.9 164.3 L203.3 169.9 L203.7 164.1 L204.1 170.6 L204.5 162.6 L205 168.9 L205.4 164.8 L205.8 169.3 L206.2 162.2 L206.6 171.1 L207.1 163.2 L207.5 169.8 L207.9 162.2 L208.3 168.8 L208.7 163.7 L209.1 170.7 L209.6 162.8 L210 168.8 L210.4 163.9 L210.8 169.4 L211.2 164.2 L211.6 168.7 L212.1 163.8 L212.5 168.7 L212.9 162.4 L213.3 171.3 L213.7 162.7 L214.2 170.7 L214.6 162.7 L215 168.4 L215.4 161.3 L215.8 170 L216.2 164.2 L216.7 168.3 L217.1 165 L217.5 170.2 L217.9 164.5 L218.3 168.8 L218.7 163 L219.2 168.6 L219.6 163.9 L220 171.3 L220.4 165 L220.8 170 L221.3 163.2 L221.7 175 L222.1 162.5 L222.5 168.6 L222.9 164.6 L223.3 170.9 L223.8 164.5 L224.2 169.6 L224.6 164.3 L225 168.9 L225.4 163.4 L225.8 169.5 L226.3 163.8 L226.7 170 L227.1 161.2 L227.5 168.1 L227.9 162 L228.3 167.6 L228.8 163.1 L229.2 168 L229.6 161.8 L230 166.7 L230.4 162.4 L230.9 169 L231.3 163.5 L231.7 168.9 L232.1 163.7 L232.5 172.1 L232.9 161.8 L233.4 169.5 L233.8 163.6 L234.2 169.4 L234.6 162.9 L235 171.6 L235.4 162.4 L235.9 169 L236.3 161.6 L236.7 171.4 L237.1 164 L237.5 170.7 L238 161.8 L238.4 175 L238.8 163.6 L239.2 169.5 L239.6 162.1 L240 169.2 L240.5 161.1 L240.9 170.6 L241.3 163.6 L241.7 168.8 L242.1 163.4 L242.5 168.3 L243 163.9 L243.4 167.8 L243.8 164 L244.2 170.1 L244.6 164.6 L245.1 169.8 L245.5 165 L245.9 170.8 L246.3 160.7 L246.7 169 L247.1 163.7 L247.6 171.6 L248 162.2 L248.4 169.4 L248.8 160.2 L249.2 171.6 L249.6 165 L250.1 171.3 L250.5 163.3 L250.9 171.2 L251.3 395 L251.7 448.7 L252.2 364.4 L252.6 304.5 L253 257.1 L253.4 225.6 L253.8 202.7 L254.2 201.1 L254.7 187.7 L255.1 188.9 L255.5 179.3 L255.9 187 L256.3 173.5 L256.7 185.5 L257.2 175.1 L257.6 184 L258 174.3 L258.4 181.7 L258.8 171.6 L259.3 180.1 L259.7 169.7 L260.1 178.6 L260.5 171.2 L260.9 176 L261.3 170.1 L261.8 174.7 L262.2 168.5 L262.6 176.1 L263 166.6 L263.4 174.2 L263.8 162.3 L264.3 172.9 L264.7 164.5 L265.1 175.1 L265.5 165.8 L265.9 175.6 L266.4 164.2 L266.8 172.2 L267.2 165.3 L267.6 174.4 L268 163.4 L268.4 175 L268.9 165.1 L269.3 176.8 L269.7 166.5 L270.1 177.5 L270.5 163.8 L270.9 171 L271.4 165 L271.8 173 L272.2 163.7 L272.6 171.6 L273 165.4 L273.5 172.5 L273.9 165.1 L274.3 174.2 L274.7 164.9 L275.1 172.2 L275.5 165.3 L276 174.6 L276.4 165.1 L276.8 171.8 L277.2 166.9 L277.6 175.6 L278 167.5 L278.5 174.6 L278.9 167.6 L279.3 174.2 L279.7 165.7 L280.1 173.6 L280.5 167 L281 173.5 L281.4 168.7 L281.8 175.9 L282.2 167 L282.6 174 L283.1 166.9 L283.5 174.6 L283.9 166.7 L284.3 176.6 L284.7 166.5 L285.1 174.7 L285.6 168.8 L286 177 L286.4 168 L286.8 176.2 L287.2 168.5 L287.6 175.3 L288.1 167.9 L288.5 174.5 L288.9 167.7 L289.3 174 L289.7 167.2 L290.2 173.1 L290.6 165.9 L291 174.7 L291.4 166.3 L291.8 175.2 L292.2 166.4 L292.7 173.3 L293.1 167 L293.5 174.8 L293.9 165.8 L294.3 173.4 L294.7 165.1 L295.2 174.2 L295.6 166.9 L296 178.6 L296.4 165 L296.8 172.5 L297.3 167.7 L297.7 175.9 L298.1 168 L298.5 173.9 L298.9 167.3 L299.3 175.8 L299.8 166.3 L300.2 175 L300.6 164.8 L301 173.9 L301.4 165.6 L301.8 175 L302.3 166.5 L302.7 172.8 L303.1 167.5 L303.5 174 L303.9 165 L304.4 177.1 L304.8 168.8 L305.2 175.1 L305.6 167.5 L306 177 L306.4 168.7 L306.9 175.7" fill="none" stroke="#ff0000" stroke-width="2" stroke-linejoin="round"/><path d="M90.1 169.3 L90.5 177 L91 165.6 L91.4 178.2 L91.8 166.1 L92.2 174.2 L92.6 167.4 L93 176.3 L93.5 165.2 L93.9 180.4 L94.3 166.9 L94.7 179.8 L95.1 169.9 L95.6 178.6 L96 170.9 L96.4 182 L96.8 172.1 L97.2 182.7 L97.6 172 L98.1 186.4 L98.5 172 L98.9 181.6 L99.3 171.6 L99.7 182.3 L100.1 170.3 L100.6 179.7 L101 167.4 L101.4 182 L101.8 168.4 L102.2 177.7 L102.7 169.6 L103.1 181.8 L103.5 170.1 L103.9 183.3 L104.3 169.8 L104.7 179.9 L105.2 167.6 L105.6 182.3 L106 166.7 L106.4 178.1 L106.8 170.1 L107.2 179.4 L107.7 167.3 L108.1 180.4 L108.5 167.2 L108.9 180.4 L109.3 162.2 L109.8 180.2 L110.2 170.8 L110.6 183.1 L111 169.8 L111.4 179.9 L111.8 169 L112.3 179.3 L112.7 168.8 L113.1 183.8 L113.5 168.5 L113.9 179.3 L114.3 169.6 L114.8 179.3 L115.2 166.7 L115.6 178 L116 171.2 L116.4 182.9 L116.9 160.2 L117.3 182.8 L117.7 165.9 L118.1 183.8 L118.5 169.3 L118.9 184.5 L119.4 168.4 L119.8 179.5 L120.2 169.3 L120.6 182.8 L121 167 L121.4 176 L121.9 162.4 L122.3 174.1 L122.7 162.7 L123.1 174.7 L123.5 162.4 L123.9 173.6 L124.4 161.7 L124.8 169.3 L125.2 162.8 L125.6 169.3 L126 162.5 L126.5 168.6 L126.9 163 L127.3 170.6 L127.7 162.8 L128.1 170.5 L128.5 162.4 L129 168.9 L129.4 163.2 L129.8 169.2 L130.2 162.4 L130.6 169.4 L131 163.6 L131.5 168.5 L131.9 163 L132.3 169.6 L132.7 163.3 L133.1 170.1 L133.6 161.5 L134 167 L134.4 156.9 L134.8 167.2 L135.2 158.3 L135.6 165.7 L136.1 161.1 L136.5 167.1 L136.9 160.5 L137.3 167.2 L137.7 160.1 L138.1 168.2 L138.6 160.5 L139 168.7 L139.4 162.7 L139.8 169.9 L140.2 161.9 L140.7 169.6 L141.1 163.1 L141.5 168.6 L141.9 161 L142.3 168.6 L142.7 160.2 L143.2 170.7 L143.6 161.8 L144 169.6 L144.4 160 L144.8 168.5 L145.2 162.7 L145.7 170 L146.1 161.5 L146.5 169.5 L146.9 160.2 L147.3 167.1 L147.8 161.3 L148.2 166.8 L148.6 158.8 L149 167.6 L149.4 158.6 L149.8 166.5 L150.3 161.7 L150.7 167.9 L151.1 159.4 L151.5 170.5 L151.9 160.6 L152.3 167.9 L152.8 160.3 L153.2 168.3 L153.6 161 L154 166.1 L154.4 161.1 L154.9 167 L155.3 160.5 L155.7 165.2 L156.1 158.9 L156.5 164.9 L156.9 159.5 L157.4 165.3 L157.8 156.9 L158.2 165.6 L158.6 158.5 L159 165.4 L159.4 160.7 L159.9 165.2 L160.3 158.5 L160.7 165.2 L161.1 157.7 L161.5 165 L162 159.4 L162.4 164.7 L162.8 158.2 L163.2 165 L163.6 157.9 L164 165.8 L164.5 154.7 L164.9 165.1 L165.3 156.7 L165.7 163.5 L166.1 158.9 L166.5 164.9 L167 158.1 L167.4 165.3 L167.8 158.4 L168.2 165.2 L168.6 158.8 L169.1 164.4 L169.5 158.5 L169.9 165.8 L170.3 159.1 L170.7 166.5 L171.1 160.4 L171.6 166 L172 158.8 L172.4 166.6 L172.8 155.1 L173.2 167.9 L173.6 160.2 L174.1 164.5 L174.5 154.7 L174.9 165.3 L175.3 158.1 L175.7 166.6 L176.1 157.2 L176.6 163 L177 159.2 L177.4 164.7 L177.8 159.1 L178.2 163.8 L178.7 156.7 L179.1 166.6 L179.5 158 L179.9 167.5 L180.3 158.7 L180.7 164.8 L181.2 158.6 L181.6 166.7 L182 159 L182.4 167.6 L182.8 161.3 L183.2 165.4 L183.7 158.8 L184.1 166.8 L184.5 160.3 L184.9 167.3 L185.3 158.1 L185.8 163.7 L186.2 157.8 L186.6 165 L187 159.3 L187.4 165.5 L187.8 158.5 L188.3 165.7 L188.7 158.5 L189.1 163.6 L189.5 158 L189.9 163.1 L190.3 157.7 L190.8 164.7 L191.2 159.4 L191.6 163.5 L192 159.2 L192.4 165.1 L192.9 158.2 L193.3 165.5 L193.7 157.7 L194.1 165.3 L194.5 158.9 L194.9 167.1 L195.4 160.4 L195.8 165.1 L196.2 159.2 L196.6 163.9 L197 158.7 L197.4 163.4 L197.9 156.9 L198.3 163.3 L198.7 158.3 L199.1 165.6 L199.5 156.3 L200 161.9 L200.4 156.8 L200.8 162.1 L201.2 155.8 L201.6 163.4 L202 157.3 L202.5 163.6 L202.9 156.9 L203.3 165.5 L203.7 159.5 L204.1 163.4 L204.5 159.6 L205 164.9 L205.4 159.3 L205.8 166.6 L206.2 159.6 L206.6 164.3 L207.1 160.7 L207.5 166.8 L207.9 156.3 L208.3 165.9 L208.7 160.2 L209.1 164.9 L209.6 159.8 L210 166.6 L210.4 158.5 L210.8 164.9 L211.2 158 L211.6 166.3 L212.1 159.3 L212.5 165 L212.9 158.1 L213.3 165 L213.7 154.2 L214.2 166 L214.6 159.2 L215 164.7 L215.4 156.8 L215.8 164.9 L216.2 154.7 L216.7 164.3 L217.1 159 L217.5 165.2 L217.9 156.7 L218.3 163.6 L218.7 158.3 L219.2 162 L219.6 158.4 L220 163.1 L220.4 157.9 L220.8 164.6 L221.3 158.3 L221.7 166.6 L222.1 158.3 L222.5 166.5 L222.9 158.2 L223.3 164.4 L223.8 158.7 L224.2 163.7 L224.6 157.1 L225 164.9 L225.4 159 L225.8 164.4 L226.3 156.8 L226.7 163.5 L227.1 154.5 L227.5 165.2 L227.9 156.7 L228.3 162.4 L228.8 158.1 L229.2 167.3 L229.6 158.7 L230 162.7 L230.4 158.7 L230.9 163.5 L231.3 158.8 L231.7 165.8 L232.1 158.6 L232.5 169.9 L232.9 160 L233.4 165.3 L233.8 157.6 L234.2 164.3 L234.6 158.5 L235 164.6 L235.4 159.7 L235.9 164.8 L236.3 158.9 L236.7 164.8 L237.1 157.3 L237.5 164.2 L238 158.3 L238.4 165.1 L238.8 157.6 L239.2 162.6 L239.6 155.8 L240 165.5 L240.5 156.1 L240.9 162.9 L241.3 155.9 L241.7 163.7 L242.1 155.5 L242.5 161.9 L243 158 L243.4 164.6 L243.8 157.4 L244.2 164.9 L244.6 156 L245.1 166.6 L245.5 158.7 L245.9 166 L246.3 158.2 L246.7 165.8 L247.1 159.6 L247.6 167.2 L248 157.9 L248.4 166.8 L248.8 158.1 L249.2 167.1 L249.6 157.4 L250.1 166.1 L250.5 159.2 L250.9 166.3 L251.3 392.7 L251.7 449.5 L252.2 370.7 L252.6 312.8 L253 266.7 L253.4 233.3 L253.8 211.5 L254.2 210 L254.7 191.4 L255.1 199.5 L255.5 181.8 L255.9 191.6 L256.3 185.4 L256.7 190.2 L257.2 179.8 L257.6 184.8 L258 177.1 L258.4 185.8 L258.8 169.1 L259.3 183.3 L259.7 173.4 L260.1 180.1 L260.5 173.6 L260.9 178.7 L261.3 171.7 L261.8 179.7 L262.2 169.8 L262.6 178.6 L263 168.1 L263.4 175.7 L263.8 167.5 L264.3 176.1 L264.7 165.4 L265.1 175 L265.5 166.3 L265.9 173.3 L266.4 165.3 L266.8 175.3 L267.2 168.2 L267.6 174.1 L268 165 L268.4 174.6 L268.9 166.4 L269.3 177.4 L269.7 169.4 L270.1 173.6 L270.5 167.9 L270.9 174.6 L271.4 165.7 L271.8 173.8 L272.2 166.3 L272.6 174.6 L273 167.2 L273.5 176.6 L273.9 165 L274.3 173.1 L274.7 164.8 L275.1 176.1 L275.5 166.7 L276 173.3 L276.4 168.1 L276.8 174 L277.2 167.5 L277.6 174.2 L278 165.4 L278.5 175.2 L278.9 166.4 L279.3 177.2 L279.7 169.5 L280.1 176.7 L280.5 165.7 L281 176.7 L281.4 166.4 L281.8 173.6 L282.2 166.1 L282.6 175.3 L283.1 167.3 L283.5 175.7 L283.9 169.3 L284.3 175.5 L284.7 165.4 L285.1 174.1 L285.6 166.8 L286 180.4 L286.4 161.8 L286.8 174.3 L287.2 167.2 L287.6 175.8 L288.1 166.5 L288.5 175.9 L288.9 167.1 L289.3 175.8 L289.7 167.5 L290.2 174 L290.6 166 L291 174.9 L291.4 161.9 L291.8 174 L292.2 167.1 L292.7 173.4 L293.1 164.3 L293.5 174.4 L293.9 167.8 L294.3 175.6 L294.7 169.1 L295.2 175.4 L295.6 166.4 L296 174.5 L296.4 166.1 L296.8 173.9 L297.3 166.9 L297.7 177 L298.1 168 L298.5 177.1 L298.9 165.7 L299.3 173.8 L299.8 165.7 L300.2 174.1 L300.6 167.6 L301 173 L301.4 164.9 L301.8 175.4 L302.3 167.5 L302.7 175.1 L303.1 168.4 L303.5 176.2 L303.9 166.4 L304.4 174.1 L304.8 167.1 L305.2 174.9 L305.6 169.8 L306 174.3 L306.4 167 L306.9 175.1" fill="none" stroke="#00ee00" stroke-width="2" stroke-linejoin="round"/><path d="M90.1 168.5 L90.5 175.8 L91 171 L91.4 177.4 L91.8 171 L92.2 176.8 L92.6 169.3 L93 177.4 L93.5 168.7 L93.9 175 L94.3 171.1 L94.7 177.7 L95.1 170.6 L95.6 178.2 L96 175.5 L96.4 218.7 L96.8 249.7 L97.2 279 L97.6 295.4 L98.1 320.8 L98.5 336.2 L98.9 365.3 L99.3 362.8 L99.7 367.2 L100.1 354.6 L100.6 356 L101 347.4 L101.4 348.6 L101.8 339.2 L102.2 342.2 L102.7 333 L103.1 334.3 L103.5 325.3 L103.9 328.7 L104.3 319.8 L104.7 318.8 L105.2 311.6 L105.6 313.9 L106 303.9 L106.4 306.3 L106.8 295.9 L107.2 298.3 L107.7 287.8 L108.1 289.4 L108.5 280.9 L108.9 282.5 L109.3 272.6 L109.8 275.2 L110.2 264.7 L110.6 268 L111 256.2 L111.4 259.7 L111.8 249.6 L112.3 249.1 L112.7 240.8 L113.1 242.8 L113.5 231.5 L113.9 234.9 L114.3 224.1 L114.8 226.7 L115.2 215.8 L115.6 216.9 L116 207.5 L116.4 208.7 L116.9 199.9 L117.3 205.1 L117.7 194.3 L118.1 199.6 L118.5 189.3 L118.9 192.6 L119.4 183.4 L119.8 187.3 L120.2 174.8 L120.6 185 L121 175.8 L121.4 180.4 L121.9 170.6 L122.3 174.5 L122.7 166.1 L123.1 171.8 L123.5 162.1 L123.9 168.6 L124.4 159.4 L124.8 163.4 L125.2 155 L125.6 160.4 L126 154.7 L126.5 160.9 L126.9 153.4 L127.3 158.6 L127.7 151.8 L128.1 158.2 L128.5 150.8 L129 156.5 L129.4 150.2 L129.8 155.4 L130.2 146 L130.6 153.5 L131 146.5 L131.5 155.3 L131.9 148.2 L132.3 151.8 L132.7 146.8 L133.1 153.5 L133.6 145.5 L134 153.3 L134.4 146.8 L134.8 153 L135.2 144 L135.6 153.7 L136.1 146.3 L136.5 150.7 L136.9 142.5 L137.3 153.2 L137.7 142.2 L138.1 149.2 L138.6 143.8 L139 150.4 L139.4 144 L139.8 151.5 L140.2 143.1 L140.7 153.1 L141.1 142.6 L141.5 152.1 L141.9 141.7 L142.3 151.3 L142.7 144.4 L143.2 153.9 L143.6 146.5 L144 151.9 L144.4 146.1 L144.8 151.7 L145.2 144.7 L145.7 150.8 L146.1 144.4 L146.5 151.2 L146.9 143.5 L147.3 153.7 L147.8 144.1 L148.2 151.3 L148.6 138.1 L149 149.2 L149.4 141.7 L149.8 151.1 L150.3 139.5 L150.7 154.4 L151.1 139.4 L151.5 147.7 L151.9 140.9 L152.3 148.3 L152.8 137.9 L153.2 148.2 L153.6 141.5 L154 151 L154.4 140.1 L154.9 150.6 L155.3 139.4 L155.7 147.8 L156.1 137.6 L156.5 148.4 L156.9 138.7 L157.4 146 L157.8 140.8 L158.2 147.5 L158.6 136.8 L159 144.5 L159.4 136.7 L159.9 144 L160.3 136.2 L160.7 144.7 L161.1 135 L161.5 149.1 L162 135.8 L162.4 142.7 L162.8 136.8 L163.2 146.3 L163.6 136.6 L164 142.8 L164.5 136.9 L164.9 144.1 L165.3 135.9 L165.7 144.5 L166.1 137.2 L166.5 144.2 L167 135.8 L167.4 147.4 L167.8 135.6 L168.2 144.8 L168.6 136.1 L169.1 145.4 L169.5 135.2 L169.9 144.6 L170.3 136 L170.7 145.9 L171.1 134.3 L171.6 141.4 L172 132.4 L172.4 143.1 L172.8 133.5 L173.2 141.2 L173.6 131.3 L174.1 140.7 L174.5 134.2 L174.9 141.2 L175.3 131.3 L175.7 144.7 L176.1 135.5 L176.6 141 L177 133 L177.4 144.5 L177.8 131.8 L178.2 143.3 L178.7 135.3 L179.1 140.8 L179.5 136.3 L179.9 147.6 L180.3 134.1 L180.7 141.8 L181.2 134.4 L181.6 142.3 L182 131.2 L182.4 145.2 L182.8 133.1 L183.2 141.2 L183.7 133.6 L184.1 142.3 L184.5 132.4 L184.9 140.1 L185.3 134.6 L185.8 145.9 L186.2 130 L186.6 141.9 L187 133.2 L187.4 145.6 L187.8 137.8 L188.3 145.5 L188.7 135 L189.1 146 L189.5 130.7 L189.9 144.6 L190.3 134.4 L190.8 145.9 L191.2 132.9 L191.6 141.8 L192 135.6 L192.4 143.1 L192.9 135.6 L193.3 140.5 L193.7 133.8 L194.1 142.5 L194.5 133.5 L194.9 142.8 L195.4 131.7 L195.8 144.4 L196.2 133.9 L196.6 142.9 L197 136.2 L197.4 146.9 L197.9 133.1 L198.3 141.9 L198.7 132.6 L199.1 141.7 L199.5 134.7 L200 141.7 L200.4 133.6 L200.8 141.3 L201.2 130.4 L201.6 143.2 L202 133.2 L202.5 144.2 L202.9 133.6 L203.3 141.7 L203.7 134.1 L204.1 143.4 L204.5 135.2 L205 143.1 L205.4 139.2 L205.8 144.8 L206.2 138.9 L206.6 143.9 L207.1 136 L207.5 148.9 L207.9 134.6 L208.3 142.9 L208.7 134 L209.1 143 L209.6 133.1 L210 144.7 L210.4 137.3 L210.8 144.5 L211.2 134.9 L211.6 143.4 L212.1 137.7 L212.5 146.9 L212.9 138.3 L213.3 142.7 L213.7 136.7 L214.2 145.9 L214.6 135.7 L215 143 L215.4 134.2 L215.8 142.9 L216.2 133.7 L216.7 142.4 L217.1 134.5 L217.5 143.9 L217.9 132.7 L218.3 142.6 L218.7 134.5 L219.2 139.7 L219.6 131.3 L220 141.4 L220.4 133.1 L220.8 140.1 L221.3 133.2 L221.7 140 L222.1 134.2 L222.5 142.7 L222.9 132.1 L223.3 143.2 L223.8 132.7 L224.2 145.2 L224.6 135 L225 147.1 L225.4 134.7 L225.8 145.9 L226.3 137.4 L226.7 144.3 L227.1 136.3 L227.5 145.9 L227.9 132.7 L228.3 145.1 L228.8 134 L229.2 145.8 L229.6 131 L230 143.2 L230.4 135.5 L230.9 141 L231.3 135 L231.7 143.6 L232.1 134.5 L232.5 141.1 L232.9 131 L233.4 141.6 L233.8 131.4 L234.2 144.8 L234.6 133.1 L235 141.3 L235.4 129.9 L235.9 140.9 L236.3 131.3 L236.7 141.6 L237.1 133.3 L237.5 140.5 L238 133.2 L238.4 141.2 L238.8 133.8 L239.2 142.3 L239.6 132.8 L240 142.5 L240.5 132.4 L240.9 142.7 L241.3 137.6 L241.7 145.9 L242.1 134.9 L242.5 147.2 L243 135.2 L243.4 147.3 L243.8 137.2 L244.2 148 L244.6 134.5 L245.1 146.5 L245.5 136.4 L245.9 143.1 L246.3 133.7 L246.7 144.1 L247.1 132.7 L247.6 149.1 L248 135.7 L248.4 142.6 L248.8 135 L249.2 144 L249.6 134 L250.1 142.6 L250.5 133.3 L250.9 146.5 L251.3 388.5 L251.7 454.9 L252.2 406.3 L252.6 381.6 L253 331.3 L253.4 318 L253.8 285.1 L254.2 270.2 L254.7 234 L255.1 240.7 L255.5 223.1 L255.9 221.4 L256.3 204.5 L256.7 212.1 L257.2 198.6 L257.6 215.7 L258 196.1 L258.4 205.6 L258.8 193.7 L259.3 201.9 L259.7 186.7 L260.1 198.6 L260.5 184.2 L260.9 194.1 L261.3 183.5 L261.8 196.7 L262.2 185.2 L262.6 191.7 L263 182 L263.4 196.7 L263.8 181.7 L264.3 191.8 L264.7 176.7 L265.1 188.3 L265.5 179.7 L265.9 187.2 L266.4 176 L266.8 184.7 L267.2 177.9 L267.6 184.7 L268 174.7 L268.4 188.3 L268.9 176.9 L269.3 187.7 L269.7 175.6 L270.1 188.9 L270.5 176.9 L270.9 185 L271.4 169.8 L271.8 184.5 L272.2 173.3 L272.6 186.9 L273 177.3 L273.5 187.5 L273.9 174.5 L274.3 184.8 L274.7 173.2 L275.1 188.3 L275.5 177.3 L276 183.5 L276.4 173.2 L276.8 184.5 L277.2 176.5 L277.6 186.5 L278 172.6 L278.5 181.4 L278.9 174 L279.3 182.3 L279.7 172.1 L280.1 183.8 L280.5 173 L281 185.8 L281.4 176 L281.8 183.3 L282.2 174.5 L282.6 187.3 L283.1 171 L283.5 185.3 L283.9 170 L284.3 187.7 L284.7 178 L285.1 187.6 L285.6 176.6 L286 188.6 L286.4 175.2 L286.8 183.9 L287.2 173.4 L287.6 182.7 L288.1 170.5 L288.5 184.2 L288.9 173.3 L289.3 182.5 L289.7 175.5 L290.2 182.9 L290.6 177.3 L291 185.6 L291.4 173 L291.8 186.3 L292.2 171.7 L292.7 182.6 L293.1 176.7 L293.5 185.4 L293.9 175.7 L294.3 186.9 L294.7 175.1 L295.2 185.2 L295.6 176.3 L296 184.3 L296.4 176.4 L296.8 186.2 L297.3 171.3 L297.7 181 L298.1 171.6 L298.5 181.1 L298.9 172 L299.3 183.5 L299.8 174.1 L300.2 181.3 L300.6 170.7 L301 182.8 L301.4 172.7 L301.8 187.8 L302.3 176.5 L302.7 186.9 L303.1 176.1 L303.5 183.8 L303.9 174.8 L304.4 187.1 L304.8 173.8 L305.2 186.4 L305.6 176.6 L306 185.1 L306.4 173.9 L306.9 186.1" fill="none" stroke="#00ffff" stroke-width="2" stroke-linejoin="round"/><path d="M90.1 168.4 L90.5 176.6 L91 167.8 L91.4 176.6 L91.8 170.7 L92.2 176.3 L92.6 170.8 L93 179 L93.5 171.5 L93.9 178.7 L94.3 169.2 L94.7 178 L95.1 168.6 L95.6 175.4 L96 170.3 L96.4 176.3 L96.8 183.9 L97.2 207.4 L97.6 215.8 L98.1 236.3 L98.5 245.9 L98.9 258.4 L99.3 254.6 L99.7 268.9 L100.1 264.8 L100.6 274.7 L101 267.9 L101.4 274.4 L101.8 269.5 L102.2 275 L102.7 266.8 L103.1 270.4 L103.5 262.5 L103.9 267 L104.3 255.7 L104.7 262.8 L105.2 252.1 L105.6 259.8 L106 250.6 L106.4 255.1 L106.8 247.6 L107.2 251.3 L107.7 241.3 L108.1 248.1 L108.5 238.3 L108.9 243.4 L109.3 235.2 L109.8 240.8 L110.2 233.8 L110.6 238.7 L111 230.4 L111.4 234.5 L111.8 225.8 L112.3 231.2 L112.7 222.9 L113.1 228.5 L113.5 220.3 L113.9 224.3 L114.3 216.4 L114.8 221.4 L115.2 211.8 L115.6 217.1 L116 208.1 L116.4 215.8 L116.9 207.4 L117.3 213.3 L117.7 205.2 L118.1 211.1 L118.5 202.2 L118.9 208.3 L119.4 203.8 L119.8 207.3 L120.2 200.3 L120.6 206.2 L121 199.4 L121.4 208.5 L121.9 197 L122.3 202.6 L122.7 195.4 L123.1 203.9 L123.5 191.8 L123.9 199.4 L124.4 192.9 L124.8 195.2 L125.2 188.2 L125.6 195.5 L126 185.1 L126.5 191.6 L126.9 186.9 L127.3 192.7 L127.7 183 L128.1 189.5 L128.5 181.8 L129 190.5 L129.4 181 L129.8 186.4 L130.2 179.6 L130.6 188 L131 180.1 L131.5 187.3 L131.9 179.4 L132.3 182.9 L132.7 177.6 L133.1 184.3 L133.6 172.4 L134 187.2 L134.4 172.5 L134.8 180.8 L135.2 171.7 L135.6 180.6 L136.1 168.6 L136.5 179.2 L136.9 171.1 L137.3 177.5 L137.7 168.2 L138.1 178.2 L138.6 167.6 L139 177 L139.4 168.1 L139.8 174.5 L140.2 165.4 L140.7 172.4 L141.1 161 L141.5 171.1 L141.9 159.4 L142.3 170.7 L142.7 158.3 L143.2 165.3 L143.6 157.1 L144 165.4 L144.4 155.2 L144.8 166.4 L145.2 149.8 L145.7 164.9 L146.1 155.7 L146.5 166.6 L146.9 156.1 L147.3 163.1 L147.8 153.3 L148.2 163.5 L148.6 156.1 L149 164.7 L149.4 153.9 L149.8 163.3 L150.3 157 L150.7 161.5 L151.1 152.5 L151.5 163 L151.9 151.6 L152.3 163.5 L152.8 155.7 L153.2 162.3 L153.6 155.1 L154 160.5 L154.4 151.4 L154.9 161.6 L155.3 153.6 L155.7 163.2 L156.1 153.3 L156.5 162.3 L156.9 151.7 L157.4 160.7 L157.8 151.7 L158.2 160.5 L158.6 148.6 L159 160.2 L159.4 147 L159.9 158.2 L160.3 143.4 L160.7 158.3 L161.1 148.8 L161.5 162.3 L162 150.4 L162.4 156.8 L162.8 149.5 L163.2 158.8 L163.6 151.9 L164 161.9 L164.5 151.1 L164.9 158.5 L165.3 147.8 L165.7 158.1 L166.1 149.5 L166.5 156.5 L167 150 L167.4 157.5 L167.8 149.7 L168.2 160.4 L168.6 149.1 L169.1 157.9 L169.5 142.9 L169.9 156.7 L170.3 148.6 L170.7 159.7 L171.1 146.5 L171.6 157.5 L172 149.4 L172.4 158 L172.8 146.7 L173.2 157.7 L173.6 148.7 L174.1 154.5 L174.5 145.5 L174.9 155.1 L175.3 150.1 L175.7 156.2 L176.1 147.6 L176.6 155.8 L177 148.4 L177.4 160.8 L177.8 147.4 L178.2 158.5 L178.7 145.5 L179.1 158.3 L179.5 148 L179.9 155.4 L180.3 149.9 L180.7 156.6 L181.2 145.6 L181.6 157.4 L182 146.7 L182.4 155.5 L182.8 149.7 L183.2 157.2 L183.7 150.7 L184.1 160.3 L184.5 143.9 L184.9 156.9 L185.3 150 L185.8 159.3 L186.2 142.6 L186.6 156.1 L187 148.9 L187.4 157.4 L187.8 148.5 L188.3 159.3 L188.7 148.2 L189.1 158.8 L189.5 147.6 L189.9 156.6 L190.3 146.6 L190.8 155.4 L191.2 145 L191.6 152.9 L192 147.6 L192.4 155.4 L192.9 145.3 L193.3 156 L193.7 144 L194.1 155.1 L194.5 144.5 L194.9 158.4 L195.4 146.7 L195.8 157.8 L196.2 148.2 L196.6 155.5 L197 147.9 L197.4 157 L197.9 148.5 L198.3 156.9 L198.7 145.9 L199.1 156.8 L199.5 148 L200 159.2 L200.4 147.4 L200.8 155 L201.2 146.5 L201.6 159.5 L202 149.6 L202.5 160.6 L202.9 147.3 L203.3 157 L203.7 148.6 L204.1 156.4 L204.5 146.1 L205 156.5 L205.4 141.8 L205.8 152.3 L206.2 145.5 L206.6 157.5 L207.1 143.9 L207.5 153.1 L207.9 146.5 L208.3 158 L208.7 145.8 L209.1 159.5 L209.6 147.7 L210 160.9 L210.4 148.2 L210.8 159.2 L211.2 145.4 L211.6 161.3 L212.1 151.9 L212.5 161.5 L212.9 150.7 L213.3 159.2 L213.7 149.9 L214.2 157.3 L214.6 149 L215 156.4 L215.4 148.5 L215.8 160.3 L216.2 147.2 L216.7 159 L217.1 143.7 L217.5 155.4 L217.9 148 L218.3 154.3 L218.7 145.4 L219.2 157.4 L219.6 149.4 L220 156.6 L220.4 145.2 L220.8 158 L221.3 141.6 L221.7 156.4 L222.1 147.1 L222.5 155.6 L222.9 143.9 L223.3 158.9 L223.8 148.1 L224.2 155.7 L224.6 144.6 L225 154 L225.4 146.7 L225.8 156.3 L226.3 145.6 L226.7 154.6 L227.1 146.5 L227.5 155.8 L227.9 143.1 L228.3 154.9 L228.8 144.2 L229.2 156.2 L229.6 146.6 L230 154.9 L230.4 146.8 L230.9 152.5 L231.3 143.9 L231.7 152 L232.1 142.4 L232.5 153.4 L232.9 144.1 L233.4 154.2 L233.8 143.6 L234.2 154.8 L234.6 145.3 L235 156.1 L235.4 147.2 L235.9 158 L236.3 145.9 L236.7 157.6 L237.1 145.6 L237.5 161.6 L238 143 L238.4 156.7 L238.8 150.4 L239.2 158 L239.6 146.3 L240 154.8 L240.5 145.7 L240.9 157.5 L241.3 147.8 L241.7 156.5 L242.1 146.8 L242.5 157.8 L243 146.5 L243.4 158.7 L243.8 146.3 L244.2 155.4 L244.6 142.2 L245.1 158.2 L245.5 144.3 L245.9 158.4 L246.3 145.9 L246.7 155 L247.1 144.1 L247.6 155.4 L248 145.4 L248.4 153.4 L248.8 144.8 L249.2 155.1 L249.6 144 L250.1 156.5 L250.5 145.7 L250.9 156.8 L251.3 387.3 L251.7 452.5 L252.2 390.8 L252.6 356.1 L253 305.1 L253.4 289.1 L253.8 249.2 L254.2 240.2 L254.7 218.3 L255.1 221.4 L255.5 203.4 L255.9 211.2 L256.3 193.9 L256.7 204.8 L257.2 192.5 L257.6 200.7 L258 186.5 L258.4 192.4 L258.8 179.8 L259.3 189.9 L259.7 180.2 L260.1 189 L260.5 176.5 L260.9 185.4 L261.3 176.1 L261.8 187.1 L262.2 177.5 L262.6 185.8 L263 173.8 L263.4 193.9 L263.8 172.7 L264.3 185.1 L264.7 165.5 L265.1 180.9 L265.5 168.7 L265.9 182.8 L266.4 167.9 L266.8 178.8 L267.2 167.4 L267.6 178.9 L268 168.2 L268.4 180.4 L268.9 171.1 L269.3 180.7 L269.7 171.9 L270.1 178.1 L270.5 168.6 L270.9 181.8 L271.4 168.9 L271.8 181 L272.2 166.7 L272.6 178 L273 167.5 L273.5 179.2 L273.9 166.2 L274.3 178.3 L274.7 165.8 L275.1 174.4 L275.5 164.2 L276 176.2 L276.4 165.8 L276.8 175.5 L277.2 167.7 L277.6 178.4 L278 167.1 L278.5 175 L278.9 163.6 L279.3 176.8 L279.7 168.6 L280.1 180.6 L280.5 168 L281 179.4 L281.4 161.3 L281.8 177.5 L282.2 165.2 L282.6 176.9 L283.1 160.8 L283.5 180.3 L283.9 169.2 L284.3 180.9 L284.7 171.2 L285.1 180.7 L285.6 166.9 L286 182.2 L286.4 170.3 L286.8 180.3 L287.2 167.7 L287.6 181.7 L288.1 168.9 L288.5 184.4 L288.9 167.3 L289.3 180.4 L289.7 165.6 L290.2 179.1 L290.6 170.6 L291 177.4 L291.4 165.8 L291.8 175.9 L292.2 167.2 L292.7 174.8 L293.1 168.1 L293.5 175 L293.9 168.1 L294.3 177.5 L294.7 164.6 L295.2 175.1 L295.6 162.3 L296 176.3 L296.4 164.8 L296.8 172.9 L297.3 162.4 L297.7 176.8 L298.1 163.8 L298.5 173.8 L298.9 166.3 L299.3 172.8 L299.8 165.5 L300.2 178.3 L300.6 165.1 L301 174.5 L301.4 161.4 L301.8 175.6 L302.3 166 L302.7 172 L303.1 163.5 L303.5 177.2 L303.9 162.4 L304.4 177.7 L304.8 164.9 L305.2 177 L305.6 168.3 L306 178.7 L306.4 169.4 L306.9 178" fill="none" stroke="#0000ff" stroke-width="2" stroke-linejoin="round"/><path d="M90.1 169.9 L90.5 178.1 L91 168.7 L91.4 177.9 L91.8 172.8 L92.2 179.5 L92.6 172.6 L93 179.6 L93.5 172.5 L93.9 177.5 L94.3 171.5 L94.7 178.7 L95.1 171.5 L95.6 177 L96 181 L96.4 230 L96.8 265 L97.2 300.4 L97.6 316.2 L98.1 344.7 L98.5 360.2 L98.9 391.9 L99.3 387.2 L99.7 385.7 L100.1 375.5 L100.6 373.2 L101 360 L101.4 359.4 L101.8 346.8 L102.2 346.3 L102.7 332.5 L103.1 332.7 L103.5 319.5 L103.9 320 L104.3 305.7 L104.7 303.7 L105.2 290.9 L105.6 292.9 L106 282.1 L106.4 285 L106.8 275.9 L107.2 276.8 L107.7 267.3 L108.1 269.5 L108.5 260.2 L108.9 261.3 L109.3 250.3 L109.8 253.3 L110.2 244.2 L110.6 246.2 L111 234.5 L111.4 237.8 L111.8 225.4 L112.3 229.7 L112.7 220.4 L113.1 225.5 L113.5 215.8 L113.9 221.6 L114.3 210.7 L114.8 216.2 L115.2 207.2 L115.6 211.3 L116 203.7 L116.4 207.3 L116.9 201.2 L117.3 205.8 L117.7 194.5 L118.1 203.6 L118.5 193.2 L118.9 200.1 L119.4 191.2 L119.8 198.1 L120.2 185.5 L120.6 191.9 L121 183.8 L121.4 190.7 L121.9 182.6 L122.3 188.6 L122.7 178.4 L123.1 188.4 L123.5 178.3 L123.9 184.5 L124.4 175.6 L124.8 185.2 L125.2 177.2 L125.6 185.4 L126 175.5 L126.5 180.6 L126.9 173.6 L127.3 187.8 L127.7 168.3 L128.1 177.6 L128.5 168.7 L129 177.8 L129.4 163.8 L129.8 177.1 L130.2 164.3 L130.6 172.6 L131 165.5 L131.5 174.7 L131.9 164.8 L132.3 171.3 L132.7 159.7 L133.1 170.1 L133.6 162.8 L134 173.6 L134.4 163 L134.8 173.4 L135.2 161.9 L135.6 170.6 L136.1 160.4 L136.5 172.5 L136.9 162.7 L137.3 171 L137.7 160.3 L138.1 172.6 L138.6 158.9 L139 167.1 L139.4 156 L139.8 169.9 L140.2 157.3 L140.7 168.6 L141.1 156 L141.5 168.7 L141.9 153.3 L142.3 169.4 L142.7 152.9 L143.2 167.5 L143.6 158.2 L144 171.2 L144.4 161.4 L144.8 168 L145.2 159.9 L145.7 173.2 L146.1 156.6 L146.5 170.6 L146.9 161.3 L147.3 170.8 L147.8 159 L148.2 173.4 L148.6 160.5 L149 171.4 L149.4 159.5 L149.8 171.9 L150.3 159.9 L150.7 174.7 L151.1 155.5 L151.5 169.3 L151.9 157.9 L152.3 174 L152.8 151 L153.2 174.1 L153.6 157 L154 174.5 L154.4 160.9 L154.9 173 L155.3 158.8 L155.7 169.2 L156.1 158.3 L156.5 168.8 L156.9 154.9 L157.4 171.4 L157.8 156.4 L158.2 166.1 L158.6 155.4 L159 172.5 L159.4 154.8 L159.9 168.3 L160.3 155.7 L160.7 167.6 L161.1 159.3 L161.5 166.5 L162 156.3 L162.4 170.5 L162.8 152.7 L163.2 165.2 L163.6 159.4 L164 168.5 L164.5 157 L164.9 170.1 L165.3 151.9 L165.7 166.4 L166.1 155.2 L166.5 165.5 L167 155.1 L167.4 170.8 L167.8 158.5 L168.2 170.3 L168.6 155 L169.1 170.4 L169.5 154.4 L169.9 171.5 L170.3 155.7 L170.7 169.7 L171.1 153.3 L171.6 169.3 L172 156.5 L172.4 168 L172.8 156.6 L173.2 167.3 L173.6 150.6 L174.1 166 L174.5 151.5 L174.9 166.5 L175.3 153.2 L175.7 163.9 L176.1 149.1 L176.6 167.2 L177 152.6 L177.4 167.9 L177.8 152.3 L178.2 164.1 L178.7 153.3 L179.1 165 L179.5 155.8 L179.9 162.4 L180.3 143.1 L180.7 163.3 L181.2 148.4 L181.6 161.5 L182 147.4 L182.4 163.4 L182.8 151.8 L183.2 165 L183.7 149.1 L184.1 160.8 L184.5 143.9 L184.9 170.2 L185.3 152.5 L185.8 165.9 L186.2 151.9 L186.6 165.6 L187 149.3 L187.4 165.6 L187.8 152.7 L188.3 166.9 L188.7 149.6 L189.1 166.6 L189.5 151.2 L189.9 164.6 L190.3 153.6 L190.8 164.6 L191.2 152.8 L191.6 163.4 L192 151.4 L192.4 168.7 L192.9 149.1 L193.3 162.7 L193.7 145.7 L194.1 164.1 L194.5 149 L194.9 159.3 L195.4 148.1 L195.8 161.2 L196.2 149.9 L196.6 163.1 L197 146.5 L197.4 165.1 L197.9 153.7 L198.3 165.2 L198.7 156.5 L199.1 167.2 L199.5 157.4 L200 170.5 L200.4 151.8 L200.8 172.5 L201.2 152.6 L201.6 163.8 L202 149.7 L202.5 164.7 L202.9 151.3 L203.3 167.3 L203.7 150.4 L204.1 169.1 L204.5 153.4 L205 165.9 L205.4 149.8 L205.8 168.5 L206.2 151.7 L206.6 165.9 L207.1 151.4 L207.5 166.4 L207.9 155 L208.3 163.8 L208.7 149.7 L209.1 166.4 L209.6 149.8 L210 164 L210.4 152.7 L210.8 162.6 L211.2 149.8 L211.6 162.8 L212.1 147.9 L212.5 165.9 L212.9 152.1 L213.3 168.5 L213.7 153.3 L214.2 163.2 L214.6 152.6 L215 166.5 L215.4 153.2 L215.8 164.6 L216.2 152.7 L216.7 169.6 L217.1 153.3 L217.5 179.5 L217.9 154.6 L218.3 167.2 L218.7 151.9 L219.2 168.4 L219.6 153.2 L220 166.7 L220.4 152.5 L220.8 162.4 L221.3 150.4 L221.7 164.1 L222.1 149.9 L222.5 164.4 L222.9 151.8 L223.3 165.1 L223.8 147.6 L224.2 163.7 L224.6 148.9 L225 167 L225.4 151.7 L225.8 162.2 L226.3 152.8 L226.7 162.6 L227.1 150.8 L227.5 166.2 L227.9 150.9 L228.3 164 L228.8 152.3 L229.2 166 L229.6 150.3 L230 165.4 L230.4 155.4 L230.9 169.2 L231.3 150.7 L231.7 165.8 L232.1 151.4 L232.5 165.3 L232.9 155.9 L233.4 168.2 L233.8 157.2 L234.2 166.5 L234.6 154.8 L235 171.7 L235.4 155.4 L235.9 166.5 L236.3 156.3 L236.7 166.3 L237.1 157.9 L237.5 166.9 L238 152.5 L238.4 165.6 L238.8 155 L239.2 166.4 L239.6 150.1 L240 163.9 L240.5 149 L240.9 162.3 L241.3 151.8 L241.7 165 L242.1 152.7 L242.5 164 L243 152.9 L243.4 168.1 L243.8 155.3 L244.2 171.5 L244.6 154.3 L245.1 167.8 L245.5 158.2 L245.9 170.8 L246.3 155.1 L246.7 165.3 L247.1 152.9 L247.6 168.6 L248 153.8 L248.4 167.7 L248.8 151.2 L249.2 171.5 L249.6 150.8 L250.1 165.9 L250.5 150.9 L250.9 167.4 L251.3 392.5 L251.7 455.2 L252.2 414.8 L252.6 385.7 L253 346.3 L253.4 324.2 L253.8 289.6 L254.2 272 L254.7 240.3 L255.1 223.4 L255.5 211.6 L255.9 215.7 L256.3 199.4 L256.7 203.9 L257.2 196.7 L257.6 200.3 L258 190.7 L258.4 197.9 L258.8 187.8 L259.3 195.5 L259.7 186.2 L260.1 195.2 L260.5 183 L260.9 193.4 L261.3 180.5 L261.8 186.8 L262.2 178.8 L262.6 192.6 L263 175.9 L263.4 185.2 L263.8 176.8 L264.3 187 L264.7 178 L265.1 185.6 L265.5 179.1 L265.9 186.2 L266.4 178.6 L266.8 186.5 L267.2 175.5 L267.6 189.5 L268 176.2 L268.4 186.7 L268.9 169.4 L269.3 186.5 L269.7 177.6 L270.1 187.5 L270.5 174.9 L270.9 190.7 L271.4 179.3 L271.8 186.5 L272.2 180.1 L272.6 188.9 L273 178.1 L273.5 189.1 L273.9 175.8 L274.3 188.1 L274.7 176.5 L275.1 184.1 L275.5 177 L276 183.9 L276.4 171.8 L276.8 185.2 L277.2 174.2 L277.6 182.4 L278 175.9 L278.5 183.9 L278.9 174.7 L279.3 186 L279.7 174.2 L280.1 185.1 L280.5 172.6 L281 186.1 L281.4 171.3 L281.8 180.6 L282.2 170.4 L282.6 181.8 L283.1 171.9 L283.5 182.5 L283.9 173.5 L284.3 183.1 L284.7 172.4 L285.1 182.3 L285.6 172.7 L286 180.4 L286.4 172.9 L286.8 191.1 L287.2 175.5 L287.6 181.2 L288.1 170.1 L288.5 181.4 L288.9 171.6 L289.3 183.8 L289.7 170.2 L290.2 184.4 L290.6 172.3 L291 182.5 L291.4 172.4 L291.8 182.7 L292.2 174.6 L292.7 183.8 L293.1 174.5 L293.5 184.4 L293.9 173.9 L294.3 183.5 L294.7 176.4 L295.2 183.5 L295.6 174.2 L296 185.3 L296.4 171.6 L296.8 182.2 L297.3 167.6 L297.7 181.3 L298.1 174.2 L298.5 181.9 L298.9 175 L299.3 183.3 L299.8 177.4 L300.2 183.3 L300.6 175.4 L301 185 L301.4 173.9 L301.8 184.8 L302.3 170.7 L302.7 182 L303.1 176.1 L303.5 181.9 L303.9 172.6 L304.4 183.4 L304.8 172.3 L305.2 179.9 L305.6 174.3 L306 179.4 L306.4 170.9 L306.9 184.3" fill="none" stroke="#800000" stroke-width="2" stroke-linejoin="round"/><rect x="93.4" y="112.6" width="3.8" height="73" fill="#9e5252"/><path d="M96.3 186 V392" stroke="#800000" stroke-width="1.1"/><path d="M98.2 112.6 V190" stroke="#0000ff" stroke-width="1.6"/><path d="M250.9 150 V455" stroke="#800000" stroke-width="1.3"/><path d="M252.1 160 V455" stroke="#b07070" stroke-width="1"/><path d="M253.9 185 V455" stroke="#2050c0" stroke-width="1.4"/></g><path d="M67.9 112.6 V455.7 H329.8" fill="none" stroke="#222222" stroke-width="2.1" stroke-linejoin="round" stroke-linecap="round"/><path d="M67.9 112.6 h-1.8 M67.9 161.6 h-4 M67.9 210.6 h-1.8 M67.9 259.6 h-4 M67.9 308.6 h-1.8 M67.9 357.6 h-4 M67.9 406.6 h-1.8 M67.9 455.6 h-4 M94.3 455.7 v4 M120.4 455.7 v1.8 M146.5 455.7 v4 M172.6 455.7 v1.8 M198.7 455.7 v4 M224.8 455.7 v1.8 M250.9 455.7 v4 M277 455.7 v1.8 M303.1 455.7 v4 M329.2 455.7 v1.8" stroke="#222222" stroke-width="1.5" fill="none"/><text x="60.3" y="166.9" font-size="16.3" text-anchor="end" fill="#2a2a2a" stroke="#2a2a2a" stroke-width="0.2">0</text><text x="60.3" y="264.9" font-size="16.3" text-anchor="end" fill="#2a2a2a" stroke="#2a2a2a" stroke-width="0.2">-100</text><text x="60.3" y="362.9" font-size="16.3" text-anchor="end" fill="#2a2a2a" stroke="#2a2a2a" stroke-width="0.2">-200</text><text x="60.3" y="460.9" font-size="16.3" text-anchor="end" fill="#2a2a2a" stroke="#2a2a2a" stroke-width="0.2">-300</text><text x="94.8" y="477.2" font-size="16.3" text-anchor="middle" fill="#2a2a2a" stroke="#2a2a2a" stroke-width="0.2">0</text><text x="147" y="477.2" font-size="16.3" text-anchor="middle" fill="#2a2a2a" stroke="#2a2a2a" stroke-width="0.2">100</text><text x="199.2" y="477.2" font-size="16.3" text-anchor="middle" fill="#2a2a2a" stroke="#2a2a2a" stroke-width="0.2">200</text><text x="251.4" y="477.2" font-size="16.3" text-anchor="middle" fill="#2a2a2a" stroke="#2a2a2a" stroke-width="0.2">300</text><text x="303.6" y="477.2" font-size="16.3" text-anchor="middle" fill="#2a2a2a" stroke="#2a2a2a" stroke-width="0.2">400</text><text transform="translate(198.6 507.6) scale(0.93 1)" font-size="22.5" text-anchor="middle" fill="#2a2a2a" stroke="#2a2a2a" stroke-width="0.25">Time (msec)</text><text transform="translate(20.4 284.2) rotate(-90) scale(0.93 1)" font-size="22.5" text-anchor="middle" fill="#2a2a2a" stroke="#2a2a2a" stroke-width="0.3">Current amplitude (pA)</text><path d="M421.7 98.1 H681.3 V447.2 H421.7 Z" fill="none" stroke="#222222" stroke-width="2.2" stroke-linejoin="round"/><path d="M421.7 129.5 H681.3 M563.3 98.1 V447.2" fill="none" stroke="#000" stroke-width="1.8"/><path d="M421.7 97.8 h2 M681.3 97.8 h-2 M421.7 129.5 h4.5 M681.3 129.5 h-4.5 M421.7 161.2 h2 M681.3 161.2 h-2 M421.7 193 h4.5 M681.3 193 h-4.5 M421.7 224.8 h2 M681.3 224.8 h-2 M421.7 256.5 h4.5 M681.3 256.5 h-4.5 M421.7 288.2 h2 M681.3 288.2 h-2 M421.7 320 h4.5 M681.3 320 h-4.5 M421.7 351.8 h2 M681.3 351.8 h-2 M421.7 383.5 h4.5 M681.3 383.5 h-4.5 M421.7 415.2 h2 M681.3 415.2 h-2 M421.7 447 h4.5 M681.3 447 h-4.5 M421.4 447.2 v-4.5 M421.4 98.1 v4.5 M445 447.2 v-2 M445 98.1 v2 M468.7 447.2 v-4.5 M468.7 98.1 v4.5 M492.3 447.2 v-2 M492.3 98.1 v2 M516 447.2 v-4.5 M516 98.1 v4.5 M539.6 447.2 v-2 M539.6 98.1 v2 M563.3 447.2 v-4.5 M563.3 98.1 v4.5 M586.9 447.2 v-2 M586.9 98.1 v2 M610.6 447.2 v-4.5 M610.6 98.1 v4.5 M634.2 447.2 v-2 M634.2 98.1 v2 M657.9 447.2 v-4.5 M657.9 98.1 v4.5 M681.5 447.2 v-2 M681.5 98.1 v2" stroke="#222222" stroke-width="1.5" fill="none"/><text x="416.3" y="134.6" font-size="16.3" text-anchor="end" fill="#2a2a2a" stroke="#2a2a2a" stroke-width="0.2">0</text><text x="416.3" y="198.1" font-size="16.3" text-anchor="end" fill="#2a2a2a" stroke="#2a2a2a" stroke-width="0.2">-100</text><text x="416.3" y="261.6" font-size="16.3" text-anchor="end" fill="#2a2a2a" stroke="#2a2a2a" stroke-width="0.2">-200</text><text x="416.3" y="325.1" font-size="16.3" text-anchor="end" fill="#2a2a2a" stroke="#2a2a2a" stroke-width="0.2">-300</text><text x="416.3" y="388.6" font-size="16.3" text-anchor="end" fill="#2a2a2a" stroke="#2a2a2a" stroke-width="0.2">-400</text><text x="416.3" y="452.1" font-size="16.3" text-anchor="end" fill="#2a2a2a" stroke="#2a2a2a" stroke-width="0.2">-500</text><text x="421.4" y="465.2" font-size="16.3" text-anchor="middle" fill="#2a2a2a" stroke="#2a2a2a" stroke-width="0.2">-60</text><text x="468.7" y="465.2" font-size="16.3" text-anchor="middle" fill="#2a2a2a" stroke="#2a2a2a" stroke-width="0.2">-40</text><text x="516" y="465.2" font-size="16.3" text-anchor="middle" fill="#2a2a2a" stroke="#2a2a2a" stroke-width="0.2">-20</text><text x="563.3" y="465.2" font-size="16.3" text-anchor="middle" fill="#2a2a2a" stroke="#2a2a2a" stroke-width="0.2">0</text><text x="610.6" y="465.2" font-size="16.3" text-anchor="middle" fill="#2a2a2a" stroke="#2a2a2a" stroke-width="0.2">20</text><text x="657.9" y="465.2" font-size="16.3" text-anchor="middle" fill="#2a2a2a" stroke="#2a2a2a" stroke-width="0.2">40</text><text transform="translate(551.6 495.6) scale(0.975 1)" font-size="21.6" text-anchor="middle" fill="#2a2a2a" stroke="#2a2a2a" stroke-width="0.25">Membrane potential (mV)</text><text transform="translate(376.3 272.6) rotate(-90) scale(0.93 1)" font-size="22.5" text-anchor="middle" fill="#2a2a2a" stroke="#2a2a2a" stroke-width="0.3">Current amplitude (pA)</text><path d="M452.9 143.7 L460.8 143.9 M476.5 145.9 L484.5 147.7 M495.6 157.2 L512.7 197.2 M519.1 212.6 L536.6 257 M547.1 270.1 L555.9 276.5 M570.6 276 L579.6 268.8 M591.6 255.3 L605.9 232.3 M616 217.3 L628.8 199.8 M638.4 184.8 L653.8 156.4" stroke="#000080" stroke-width="1.8" fill="none"/><path d="M492.3 141.9 V144.3 M492.3 154.7 V157.1 M487.3 141.9 h10 M487.3 157.1 h10 M516 195.7 V199.7 M516 210.1 V214.1 M511 195.7 h10 M511 214.1 h10 M539.6 252.7 V259.6 M539.6 270 V276.8 M534.6 252.7 h10 M534.6 276.8 h10 M563.3 267.3 V276.7 M563.3 287.1 V296.5 M558.3 267.3 h10 M558.3 296.5 h10 M586.9 249.5 V257.7 M586.9 268.1 V276.2 M581.9 249.5 h10 M581.9 276.2 h10 M610.6 214.6 V219.6 M610.6 229.9 V234.9 M605.6 214.6 h10 M605.6 234.9 h10 M634.2 183.5 V187.2 M634.2 197.6 V201.3 M629.2 183.5 h10 M629.2 201.3 h10 M657.9 141.8 V143.6 M657.9 154 V155.8 M652.9 141.8 h10 M652.9 155.8 h10" stroke="#000080" stroke-width="1.6" fill="none"/><rect x="440.3" y="138.5" width="9.4" height="7.4" fill="#fff" stroke="#000080" stroke-width="1.4"/><rect x="463.4" y="138.8" width="10.6" height="10.6" fill="#000080"/><rect x="487" y="144.2" width="10.6" height="10.6" fill="#000080"/><rect x="510.7" y="199.6" width="10.6" height="10.6" fill="#000080"/><rect x="534.4" y="259.5" width="10.6" height="10.6" fill="#000080"/><rect x="558" y="276.6" width="10.6" height="10.6" fill="#000080"/><rect x="581.6" y="257.6" width="10.6" height="10.6" fill="#000080"/><rect x="605.3" y="219.4" width="10.6" height="10.6" fill="#000080"/><rect x="629" y="187.1" width="10.6" height="10.6" fill="#000080"/><rect x="652.6" y="143.5" width="10.6" height="10.6" fill="#000080"/><path d="M452.8 146.7 L461 150.1 M476.3 157.4 L484.7 161.9 M494.4 173.8 L513.9 247.4 M517.5 263.1 L538.2 374.4 M547.4 385.3 L555.6 388.5 M567.9 384 L582.4 360.1 M590.1 344.9 L607.5 301.5 M614 286.1 L630.8 248.7 M636.5 233.2 L655.7 165" stroke="#ff0000" stroke-width="1.8" fill="none"/><path d="M492.3 156.5 V160.8 M492.3 171.2 V175.5 M487.3 156.5 h10 M487.3 175.5 h10 M516 244.1 V250 M516 260.4 V266.3 M511 244.1 h10 M511 266.3 h10 M539.6 368.3 V377 M539.6 387.4 V396.2 M534.6 368.3 h10 M534.6 396.2 h10 M563.3 373.1 V386.3 M563.3 396.7 V409.9 M558.3 373.1 h10 M558.3 409.9 h10 M586.9 339.9 V347.4 M586.9 357.8 V365.3 M581.9 339.9 h10 M581.9 365.3 h10 M610.6 282.7 V288.6 M610.6 299 V304.9 M605.6 282.7 h10 M605.6 304.9 h10 M634.2 229.9 V235.8 M634.2 246.2 V252.1 M629.2 229.9 h10 M629.2 252.1 h10 M657.9 148 V152 M657.9 162.4 V166.4 M652.9 148 h10 M652.9 166.4 h10" stroke="#ff0000" stroke-width="1.6" fill="none"/><rect x="440.5" y="139" width="9" height="9" fill="none" stroke="#ff0000" stroke-width="2"/><rect x="464.2" y="148.8" width="9" height="9" fill="none" stroke="#ff0000" stroke-width="2"/><rect x="487.8" y="161.5" width="9" height="9" fill="none" stroke="#ff0000" stroke-width="2"/><rect x="511.5" y="250.7" width="9" height="9" fill="none" stroke="#ff0000" stroke-width="2"/><rect x="535.1" y="377.7" width="9" height="9" fill="none" stroke="#ff0000" stroke-width="2"/><rect x="558.8" y="387" width="9" height="9" fill="none" stroke="#ff0000" stroke-width="2"/><rect x="582.4" y="348.1" width="9" height="9" fill="none" stroke="#ff0000" stroke-width="2"/><rect x="606.1" y="289.3" width="9" height="9" fill="none" stroke="#ff0000" stroke-width="2"/><rect x="629.8" y="236.5" width="9" height="9" fill="none" stroke="#ff0000" stroke-width="2"/><rect x="653.4" y="152.7" width="9" height="9" fill="none" stroke="#ff0000" stroke-width="2"/><text transform="translate(-0.3 20.6) scale(0.91 1)" font-size="29" fill="#000">a</text><text x="364" y="21.5" font-size="29" fill="#000">b</text></svg>
</body></html>
